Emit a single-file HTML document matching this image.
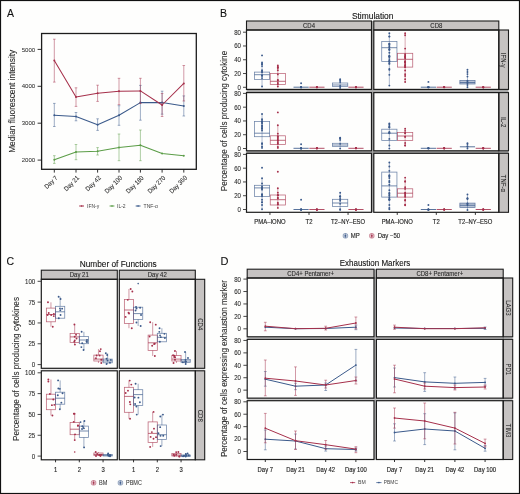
<!DOCTYPE html>
<html><head><meta charset="utf-8"><style>
html,body{margin:0;padding:0;background:#fff;}
body{width:520px;height:494px;overflow:hidden;}
svg{display:block;font-family:"Liberation Sans", sans-serif;will-change:transform;}
</style></head><body>
<svg width="520" height="494" viewBox="0 0 520 494">
<rect x="0" y="0" width="520" height="494" fill="#fefefd"/>
<rect x="0.50" y="0.50" width="519.00" height="493.00" fill="none" stroke="#111" stroke-width="1.2"/>
<text x="7.10" y="17.40" font-size="11.5" text-anchor="start" fill="#111" stroke="#111" stroke-width="0.1" textLength="7.0" lengthAdjust="spacingAndGlyphs">A</text>
<line x1="54.30" y1="155.70" x2="54.30" y2="163.40" stroke="#5b9d47" stroke-width="0.8" stroke-opacity="0.62" stroke-linecap="butt"/>
<line x1="53.00" y1="155.70" x2="55.60" y2="155.70" stroke="#5b9d47" stroke-width="0.8" stroke-opacity="0.62" stroke-linecap="butt"/>
<line x1="53.00" y1="163.40" x2="55.60" y2="163.40" stroke="#5b9d47" stroke-width="0.8" stroke-opacity="0.62" stroke-linecap="butt"/>
<line x1="76.00" y1="144.50" x2="76.00" y2="159.70" stroke="#5b9d47" stroke-width="0.8" stroke-opacity="0.62" stroke-linecap="butt"/>
<line x1="74.70" y1="144.50" x2="77.30" y2="144.50" stroke="#5b9d47" stroke-width="0.8" stroke-opacity="0.62" stroke-linecap="butt"/>
<line x1="74.70" y1="159.70" x2="77.30" y2="159.70" stroke="#5b9d47" stroke-width="0.8" stroke-opacity="0.62" stroke-linecap="butt"/>
<line x1="97.60" y1="147.60" x2="97.60" y2="155.00" stroke="#5b9d47" stroke-width="0.8" stroke-opacity="0.62" stroke-linecap="butt"/>
<line x1="96.30" y1="147.60" x2="98.90" y2="147.60" stroke="#5b9d47" stroke-width="0.8" stroke-opacity="0.62" stroke-linecap="butt"/>
<line x1="96.30" y1="155.00" x2="98.90" y2="155.00" stroke="#5b9d47" stroke-width="0.8" stroke-opacity="0.62" stroke-linecap="butt"/>
<line x1="119.00" y1="134.00" x2="119.00" y2="160.70" stroke="#5b9d47" stroke-width="0.8" stroke-opacity="0.62" stroke-linecap="butt"/>
<line x1="117.70" y1="134.00" x2="120.30" y2="134.00" stroke="#5b9d47" stroke-width="0.8" stroke-opacity="0.62" stroke-linecap="butt"/>
<line x1="117.70" y1="160.70" x2="120.30" y2="160.70" stroke="#5b9d47" stroke-width="0.8" stroke-opacity="0.62" stroke-linecap="butt"/>
<line x1="140.40" y1="130.00" x2="140.40" y2="160.70" stroke="#5b9d47" stroke-width="0.8" stroke-opacity="0.62" stroke-linecap="butt"/>
<line x1="139.10" y1="130.00" x2="141.70" y2="130.00" stroke="#5b9d47" stroke-width="0.8" stroke-opacity="0.62" stroke-linecap="butt"/>
<line x1="139.10" y1="160.70" x2="141.70" y2="160.70" stroke="#5b9d47" stroke-width="0.8" stroke-opacity="0.62" stroke-linecap="butt"/>
<polyline points="54.30,159.70 76.00,152.00 97.60,151.20 119.00,147.60 140.40,145.30 162.10,153.60 183.80,155.70" fill="none" stroke="#5b9d47" stroke-width="1.05" stroke-linejoin="round"/>
<circle cx="54.30" cy="159.70" r="1.0" fill="#5b9d47"/>
<circle cx="76.00" cy="152.00" r="1.0" fill="#5b9d47"/>
<circle cx="97.60" cy="151.20" r="1.0" fill="#5b9d47"/>
<circle cx="119.00" cy="147.60" r="1.0" fill="#5b9d47"/>
<circle cx="140.40" cy="145.30" r="1.0" fill="#5b9d47"/>
<circle cx="162.10" cy="153.60" r="1.0" fill="#5b9d47"/>
<circle cx="183.80" cy="155.70" r="1.0" fill="#5b9d47"/>
<line x1="54.30" y1="103.40" x2="54.30" y2="126.50" stroke="#3b5a8b" stroke-width="0.8" stroke-opacity="0.62" stroke-linecap="butt"/>
<line x1="53.00" y1="103.40" x2="55.60" y2="103.40" stroke="#3b5a8b" stroke-width="0.8" stroke-opacity="0.62" stroke-linecap="butt"/>
<line x1="53.00" y1="126.50" x2="55.60" y2="126.50" stroke="#3b5a8b" stroke-width="0.8" stroke-opacity="0.62" stroke-linecap="butt"/>
<line x1="76.00" y1="112.50" x2="76.00" y2="120.80" stroke="#3b5a8b" stroke-width="0.8" stroke-opacity="0.62" stroke-linecap="butt"/>
<line x1="74.70" y1="112.50" x2="77.30" y2="112.50" stroke="#3b5a8b" stroke-width="0.8" stroke-opacity="0.62" stroke-linecap="butt"/>
<line x1="74.70" y1="120.80" x2="77.30" y2="120.80" stroke="#3b5a8b" stroke-width="0.8" stroke-opacity="0.62" stroke-linecap="butt"/>
<line x1="97.60" y1="118.80" x2="97.60" y2="130.40" stroke="#3b5a8b" stroke-width="0.8" stroke-opacity="0.62" stroke-linecap="butt"/>
<line x1="96.30" y1="118.80" x2="98.90" y2="118.80" stroke="#3b5a8b" stroke-width="0.8" stroke-opacity="0.62" stroke-linecap="butt"/>
<line x1="96.30" y1="130.40" x2="98.90" y2="130.40" stroke="#3b5a8b" stroke-width="0.8" stroke-opacity="0.62" stroke-linecap="butt"/>
<line x1="119.00" y1="105.70" x2="119.00" y2="125.30" stroke="#3b5a8b" stroke-width="0.8" stroke-opacity="0.62" stroke-linecap="butt"/>
<line x1="117.70" y1="105.70" x2="120.30" y2="105.70" stroke="#3b5a8b" stroke-width="0.8" stroke-opacity="0.62" stroke-linecap="butt"/>
<line x1="117.70" y1="125.30" x2="120.30" y2="125.30" stroke="#3b5a8b" stroke-width="0.8" stroke-opacity="0.62" stroke-linecap="butt"/>
<line x1="140.40" y1="85.40" x2="140.40" y2="120.20" stroke="#3b5a8b" stroke-width="0.8" stroke-opacity="0.62" stroke-linecap="butt"/>
<line x1="139.10" y1="85.40" x2="141.70" y2="85.40" stroke="#3b5a8b" stroke-width="0.8" stroke-opacity="0.62" stroke-linecap="butt"/>
<line x1="139.10" y1="120.20" x2="141.70" y2="120.20" stroke="#3b5a8b" stroke-width="0.8" stroke-opacity="0.62" stroke-linecap="butt"/>
<line x1="162.10" y1="91.20" x2="162.10" y2="114.20" stroke="#3b5a8b" stroke-width="0.8" stroke-opacity="0.62" stroke-linecap="butt"/>
<line x1="160.80" y1="91.20" x2="163.40" y2="91.20" stroke="#3b5a8b" stroke-width="0.8" stroke-opacity="0.62" stroke-linecap="butt"/>
<line x1="160.80" y1="114.20" x2="163.40" y2="114.20" stroke="#3b5a8b" stroke-width="0.8" stroke-opacity="0.62" stroke-linecap="butt"/>
<line x1="183.80" y1="95.90" x2="183.80" y2="116.00" stroke="#3b5a8b" stroke-width="0.8" stroke-opacity="0.62" stroke-linecap="butt"/>
<line x1="182.50" y1="95.90" x2="185.10" y2="95.90" stroke="#3b5a8b" stroke-width="0.8" stroke-opacity="0.62" stroke-linecap="butt"/>
<line x1="182.50" y1="116.00" x2="185.10" y2="116.00" stroke="#3b5a8b" stroke-width="0.8" stroke-opacity="0.62" stroke-linecap="butt"/>
<polyline points="54.30,115.20 76.00,116.60 97.60,124.70 119.00,115.20 140.40,102.60 162.10,102.60 183.80,106.00" fill="none" stroke="#3b5a8b" stroke-width="1.05" stroke-linejoin="round"/>
<circle cx="54.30" cy="115.20" r="1.0" fill="#3b5a8b"/>
<circle cx="76.00" cy="116.60" r="1.0" fill="#3b5a8b"/>
<circle cx="97.60" cy="124.70" r="1.0" fill="#3b5a8b"/>
<circle cx="119.00" cy="115.20" r="1.0" fill="#3b5a8b"/>
<circle cx="140.40" cy="102.60" r="1.0" fill="#3b5a8b"/>
<circle cx="162.10" cy="102.60" r="1.0" fill="#3b5a8b"/>
<circle cx="183.80" cy="106.00" r="1.0" fill="#3b5a8b"/>
<line x1="54.30" y1="39.20" x2="54.30" y2="82.10" stroke="#a6304b" stroke-width="0.8" stroke-opacity="0.62" stroke-linecap="butt"/>
<line x1="53.00" y1="39.20" x2="55.60" y2="39.20" stroke="#a6304b" stroke-width="0.8" stroke-opacity="0.62" stroke-linecap="butt"/>
<line x1="53.00" y1="82.10" x2="55.60" y2="82.10" stroke="#a6304b" stroke-width="0.8" stroke-opacity="0.62" stroke-linecap="butt"/>
<line x1="76.00" y1="87.80" x2="76.00" y2="106.40" stroke="#a6304b" stroke-width="0.8" stroke-opacity="0.62" stroke-linecap="butt"/>
<line x1="74.70" y1="87.80" x2="77.30" y2="87.80" stroke="#a6304b" stroke-width="0.8" stroke-opacity="0.62" stroke-linecap="butt"/>
<line x1="74.70" y1="106.40" x2="77.30" y2="106.40" stroke="#a6304b" stroke-width="0.8" stroke-opacity="0.62" stroke-linecap="butt"/>
<line x1="97.60" y1="85.20" x2="97.60" y2="101.40" stroke="#a6304b" stroke-width="0.8" stroke-opacity="0.62" stroke-linecap="butt"/>
<line x1="96.30" y1="85.20" x2="98.90" y2="85.20" stroke="#a6304b" stroke-width="0.8" stroke-opacity="0.62" stroke-linecap="butt"/>
<line x1="96.30" y1="101.40" x2="98.90" y2="101.40" stroke="#a6304b" stroke-width="0.8" stroke-opacity="0.62" stroke-linecap="butt"/>
<line x1="119.00" y1="78.30" x2="119.00" y2="104.60" stroke="#a6304b" stroke-width="0.8" stroke-opacity="0.62" stroke-linecap="butt"/>
<line x1="117.70" y1="78.30" x2="120.30" y2="78.30" stroke="#a6304b" stroke-width="0.8" stroke-opacity="0.62" stroke-linecap="butt"/>
<line x1="117.70" y1="104.60" x2="120.30" y2="104.60" stroke="#a6304b" stroke-width="0.8" stroke-opacity="0.62" stroke-linecap="butt"/>
<line x1="140.40" y1="78.30" x2="140.40" y2="103.50" stroke="#a6304b" stroke-width="0.8" stroke-opacity="0.62" stroke-linecap="butt"/>
<line x1="139.10" y1="78.30" x2="141.70" y2="78.30" stroke="#a6304b" stroke-width="0.8" stroke-opacity="0.62" stroke-linecap="butt"/>
<line x1="139.10" y1="103.50" x2="141.70" y2="103.50" stroke="#a6304b" stroke-width="0.8" stroke-opacity="0.62" stroke-linecap="butt"/>
<line x1="162.10" y1="93.50" x2="162.10" y2="116.50" stroke="#a6304b" stroke-width="0.8" stroke-opacity="0.62" stroke-linecap="butt"/>
<line x1="160.80" y1="93.50" x2="163.40" y2="93.50" stroke="#a6304b" stroke-width="0.8" stroke-opacity="0.62" stroke-linecap="butt"/>
<line x1="160.80" y1="116.50" x2="163.40" y2="116.50" stroke="#a6304b" stroke-width="0.8" stroke-opacity="0.62" stroke-linecap="butt"/>
<line x1="183.80" y1="65.50" x2="183.80" y2="101.00" stroke="#a6304b" stroke-width="0.8" stroke-opacity="0.62" stroke-linecap="butt"/>
<line x1="182.50" y1="65.50" x2="185.10" y2="65.50" stroke="#a6304b" stroke-width="0.8" stroke-opacity="0.62" stroke-linecap="butt"/>
<line x1="182.50" y1="101.00" x2="185.10" y2="101.00" stroke="#a6304b" stroke-width="0.8" stroke-opacity="0.62" stroke-linecap="butt"/>
<polyline points="54.30,60.50 76.00,96.90 97.60,93.30 119.00,91.30 140.40,90.90 162.10,105.00 183.80,83.40" fill="none" stroke="#a6304b" stroke-width="1.05" stroke-linejoin="round"/>
<circle cx="54.30" cy="60.50" r="1.0" fill="#a6304b"/>
<circle cx="76.00" cy="96.90" r="1.0" fill="#a6304b"/>
<circle cx="97.60" cy="93.30" r="1.0" fill="#a6304b"/>
<circle cx="119.00" cy="91.30" r="1.0" fill="#a6304b"/>
<circle cx="140.40" cy="90.90" r="1.0" fill="#a6304b"/>
<circle cx="162.10" cy="105.00" r="1.0" fill="#a6304b"/>
<circle cx="183.80" cy="83.40" r="1.0" fill="#a6304b"/>
<rect x="41.60" y="33.50" width="154.70" height="135.80" fill="none" stroke="#1c1c1c" stroke-width="1.3"/>
<line x1="37.60" y1="49.40" x2="41.60" y2="49.40" stroke="#1c1c1c" stroke-width="0.9" stroke-linecap="butt"/>
<text x="35.20" y="51.50" font-size="6.1" text-anchor="end" fill="#333" stroke="#333" stroke-width="0.05">5000</text>
<line x1="37.60" y1="86.30" x2="41.60" y2="86.30" stroke="#1c1c1c" stroke-width="0.9" stroke-linecap="butt"/>
<text x="35.20" y="88.40" font-size="6.1" text-anchor="end" fill="#333" stroke="#333" stroke-width="0.05">4000</text>
<line x1="37.60" y1="123.20" x2="41.60" y2="123.20" stroke="#1c1c1c" stroke-width="0.9" stroke-linecap="butt"/>
<text x="35.20" y="125.30" font-size="6.1" text-anchor="end" fill="#333" stroke="#333" stroke-width="0.05">3000</text>
<line x1="37.60" y1="160.10" x2="41.60" y2="160.10" stroke="#1c1c1c" stroke-width="0.9" stroke-linecap="butt"/>
<text x="35.20" y="162.20" font-size="6.1" text-anchor="end" fill="#333" stroke="#333" stroke-width="0.05">2000</text>
<line x1="54.30" y1="169.30" x2="54.30" y2="172.60" stroke="#1c1c1c" stroke-width="0.9" stroke-linecap="butt"/>
<text x="58.00" y="178.30" font-size="6.49" text-anchor="end" fill="#2a2a2a" stroke="#2a2a2a" stroke-width="0.07" transform="rotate(-45 58.00 178.30)" textLength="15.41" lengthAdjust="spacingAndGlyphs">Day 7</text>
<line x1="76.00" y1="169.30" x2="76.00" y2="172.60" stroke="#1c1c1c" stroke-width="0.9" stroke-linecap="butt"/>
<text x="79.70" y="178.30" font-size="6.49" text-anchor="end" fill="#2a2a2a" stroke="#2a2a2a" stroke-width="0.07" transform="rotate(-45 79.70 178.30)" textLength="18.69" lengthAdjust="spacingAndGlyphs">Day 21</text>
<line x1="97.60" y1="169.30" x2="97.60" y2="172.60" stroke="#1c1c1c" stroke-width="0.9" stroke-linecap="butt"/>
<text x="101.30" y="178.30" font-size="6.49" text-anchor="end" fill="#2a2a2a" stroke="#2a2a2a" stroke-width="0.07" transform="rotate(-45 101.30 178.30)" textLength="18.69" lengthAdjust="spacingAndGlyphs">Day 42</text>
<line x1="119.00" y1="169.30" x2="119.00" y2="172.60" stroke="#1c1c1c" stroke-width="0.9" stroke-linecap="butt"/>
<text x="122.70" y="178.30" font-size="6.49" text-anchor="end" fill="#2a2a2a" stroke="#2a2a2a" stroke-width="0.07" transform="rotate(-45 122.70 178.30)" textLength="21.98" lengthAdjust="spacingAndGlyphs">Day 100</text>
<line x1="140.40" y1="169.30" x2="140.40" y2="172.60" stroke="#1c1c1c" stroke-width="0.9" stroke-linecap="butt"/>
<text x="144.10" y="178.30" font-size="6.49" text-anchor="end" fill="#2a2a2a" stroke="#2a2a2a" stroke-width="0.07" transform="rotate(-45 144.10 178.30)" textLength="21.98" lengthAdjust="spacingAndGlyphs">Day 180</text>
<line x1="162.10" y1="169.30" x2="162.10" y2="172.60" stroke="#1c1c1c" stroke-width="0.9" stroke-linecap="butt"/>
<text x="165.80" y="178.30" font-size="6.49" text-anchor="end" fill="#2a2a2a" stroke="#2a2a2a" stroke-width="0.07" transform="rotate(-45 165.80 178.30)" textLength="21.98" lengthAdjust="spacingAndGlyphs">Day 270</text>
<line x1="183.80" y1="169.30" x2="183.80" y2="172.60" stroke="#1c1c1c" stroke-width="0.9" stroke-linecap="butt"/>
<text x="187.50" y="178.30" font-size="6.49" text-anchor="end" fill="#2a2a2a" stroke="#2a2a2a" stroke-width="0.07" transform="rotate(-45 187.50 178.30)" textLength="21.98" lengthAdjust="spacingAndGlyphs">Day 360</text>
<text x="15.20" y="101.30" font-size="8.8" text-anchor="middle" fill="#2a2a2a" stroke="#2a2a2a" stroke-width="0.1" transform="rotate(-90 15.20 101.30)" textLength="103" lengthAdjust="spacingAndGlyphs">Median fluorescent intensity</text>
<line x1="79.20" y1="206.00" x2="84.00" y2="206.00" stroke="#a6304b" stroke-width="1.0" stroke-linecap="butt"/>
<circle cx="81.60" cy="206.00" r="0.8" fill="#a6304b"/>
<text x="87.00" y="207.90" font-size="5.0" text-anchor="start" fill="#444">IFN-γ</text>
<line x1="109.60" y1="206.00" x2="114.40" y2="206.00" stroke="#5b9d47" stroke-width="1.0" stroke-linecap="butt"/>
<circle cx="112.00" cy="206.00" r="0.8" fill="#5b9d47"/>
<text x="117.00" y="207.90" font-size="5.0" text-anchor="start" fill="#444">IL-2</text>
<line x1="135.70" y1="206.00" x2="140.50" y2="206.00" stroke="#3b5a8b" stroke-width="1.0" stroke-linecap="butt"/>
<circle cx="138.10" cy="206.00" r="0.8" fill="#3b5a8b"/>
<text x="143.60" y="207.90" font-size="5.0" text-anchor="start" fill="#444">TNF-α</text>
<text x="220.00" y="17.20" font-size="10.5" text-anchor="start" fill="#111" stroke="#111" stroke-width="0.1">B</text>
<text x="372.70" y="19.00" font-size="8.4" text-anchor="middle" fill="#111" stroke="#111" stroke-width="0.1" textLength="41.5" lengthAdjust="spacingAndGlyphs">Stimulation</text>
<rect x="246.50" y="89.40" width="262.00" height="3.20" fill="#a9a9a9"/>
<rect x="246.50" y="150.80" width="262.00" height="2.50" fill="#a9a9a9"/>
<rect x="371.50" y="21.00" width="2.30" height="191.30" fill="#a9a9a9"/>
<rect x="246.50" y="21.00" width="125.00" height="9.00" fill="#c6c3c2" stroke="#1c1c1c" stroke-width="1.1"/>
<text x="309.00" y="27.90" font-size="6.72" text-anchor="middle" fill="#2a2a2a" stroke="#2a2a2a" stroke-width="0.1" textLength="12.0" lengthAdjust="spacingAndGlyphs">CD4</text>
<rect x="373.80" y="21.00" width="125.00" height="9.00" fill="#c6c3c2" stroke="#1c1c1c" stroke-width="1.1"/>
<text x="436.30" y="27.90" font-size="6.72" text-anchor="middle" fill="#2a2a2a" stroke="#2a2a2a" stroke-width="0.1" textLength="12.0" lengthAdjust="spacingAndGlyphs">CD8</text>
<rect x="498.80" y="30.00" width="9.70" height="59.40" fill="#c6c3c2" stroke="#1c1c1c" stroke-width="1.1"/>
<text x="501.25" y="60.20" font-size="6.72" text-anchor="middle" fill="#2a2a2a" stroke="#2a2a2a" stroke-width="0.08" transform="rotate(90 501.25 60.20)" textLength="14.66" lengthAdjust="spacingAndGlyphs">IFN-γ</text>
<rect x="498.80" y="92.60" width="9.70" height="58.20" fill="#c6c3c2" stroke="#1c1c1c" stroke-width="1.1"/>
<text x="501.25" y="122.20" font-size="6.72" text-anchor="middle" fill="#2a2a2a" stroke="#2a2a2a" stroke-width="0.08" transform="rotate(90 501.25 122.20)" textLength="10.34" lengthAdjust="spacingAndGlyphs">IL-2</text>
<rect x="498.80" y="153.30" width="9.70" height="59.00" fill="#c6c3c2" stroke="#1c1c1c" stroke-width="1.1"/>
<text x="501.25" y="183.30" font-size="6.72" text-anchor="middle" fill="#2a2a2a" stroke="#2a2a2a" stroke-width="0.08" transform="rotate(90 501.25 183.30)" textLength="17.13" lengthAdjust="spacingAndGlyphs">TNF-α</text>
<line x1="262.04" y1="62.50" x2="262.04" y2="86.50" stroke="#3b5a8b" stroke-width="0.7" stroke-opacity="0.6" stroke-linecap="butt"/>
<rect x="254.44" y="72.10" width="15.20" height="7.50" fill="none" stroke="#3b5a8b" stroke-width="0.75" stroke-opacity="0.75"/>
<line x1="254.44" y1="74.70" x2="269.64" y2="74.70" stroke="#3b5a8b" stroke-width="0.8250000000000001" stroke-opacity="0.85" stroke-linecap="butt"/>
<circle cx="262.04" cy="62.50" r="0.95" fill="#3b5a8b"/>
<circle cx="262.04" cy="86.50" r="0.95" fill="#3b5a8b"/>
<circle cx="262.04" cy="70.27" r="0.95" fill="#3b5a8b"/>
<circle cx="262.04" cy="66.12" r="0.95" fill="#3b5a8b"/>
<circle cx="262.04" cy="78.12" r="0.95" fill="#3b5a8b"/>
<circle cx="262.04" cy="64.24" r="0.95" fill="#3b5a8b"/>
<circle cx="262.04" cy="75.36" r="0.95" fill="#3b5a8b"/>
<circle cx="262.04" cy="71.28" r="0.95" fill="#3b5a8b"/>
<circle cx="262.04" cy="63.89" r="0.95" fill="#3b5a8b"/>
<circle cx="262.04" cy="75.91" r="0.95" fill="#3b5a8b"/>
<circle cx="262.04" cy="72.38" r="0.95" fill="#3b5a8b"/>
<circle cx="262.04" cy="75.35" r="0.95" fill="#3b5a8b"/>
<circle cx="262.04" cy="55.40" r="0.95" fill="#3b5a8b"/>
<line x1="277.84" y1="65.50" x2="277.84" y2="86.50" stroke="#a6304b" stroke-width="0.7" stroke-opacity="0.6" stroke-linecap="butt"/>
<rect x="270.24" y="73.40" width="15.20" height="11.20" fill="none" stroke="#a6304b" stroke-width="0.75" stroke-opacity="0.75"/>
<line x1="270.24" y1="81.30" x2="285.44" y2="81.30" stroke="#a6304b" stroke-width="0.8250000000000001" stroke-opacity="0.85" stroke-linecap="butt"/>
<circle cx="277.84" cy="65.50" r="0.95" fill="#a6304b"/>
<circle cx="277.84" cy="86.50" r="0.95" fill="#a6304b"/>
<circle cx="277.84" cy="66.97" r="0.95" fill="#a6304b"/>
<circle cx="277.84" cy="67.40" r="0.95" fill="#a6304b"/>
<circle cx="277.84" cy="74.41" r="0.95" fill="#a6304b"/>
<circle cx="277.84" cy="82.86" r="0.95" fill="#a6304b"/>
<circle cx="277.84" cy="68.10" r="0.95" fill="#a6304b"/>
<circle cx="277.84" cy="70.19" r="0.95" fill="#a6304b"/>
<circle cx="277.84" cy="80.43" r="0.95" fill="#a6304b"/>
<circle cx="277.84" cy="84.01" r="0.95" fill="#a6304b"/>
<circle cx="277.84" cy="79.86" r="0.95" fill="#a6304b"/>
<line x1="301.10" y1="87.00" x2="301.10" y2="87.40" stroke="#3b5a8b" stroke-width="0.7" stroke-opacity="0.6" stroke-linecap="butt"/>
<line x1="293.50" y1="87.20" x2="308.70" y2="87.20" stroke="#3b5a8b" stroke-width="1.0" stroke-opacity="0.85" stroke-linecap="butt"/>
<circle cx="301.10" cy="87.00" r="0.95" fill="#3b5a8b"/>
<circle cx="301.10" cy="87.40" r="0.95" fill="#3b5a8b"/>
<circle cx="301.10" cy="87.16" r="0.95" fill="#3b5a8b"/>
<circle cx="301.10" cy="87.39" r="0.95" fill="#3b5a8b"/>
<circle cx="301.10" cy="86.92" r="0.95" fill="#3b5a8b"/>
<circle cx="301.10" cy="83.30" r="0.95" fill="#3b5a8b"/>
<line x1="316.90" y1="87.00" x2="316.90" y2="87.40" stroke="#a6304b" stroke-width="0.7" stroke-opacity="0.6" stroke-linecap="butt"/>
<line x1="309.30" y1="87.20" x2="324.50" y2="87.20" stroke="#a6304b" stroke-width="1.0" stroke-opacity="0.85" stroke-linecap="butt"/>
<circle cx="316.90" cy="87.00" r="0.95" fill="#a6304b"/>
<circle cx="316.90" cy="87.40" r="0.95" fill="#a6304b"/>
<circle cx="316.90" cy="87.34" r="0.95" fill="#a6304b"/>
<circle cx="316.90" cy="87.12" r="0.95" fill="#a6304b"/>
<circle cx="316.90" cy="86.97" r="0.95" fill="#a6304b"/>
<line x1="340.16" y1="79.30" x2="340.16" y2="87.90" stroke="#3b5a8b" stroke-width="0.7" stroke-opacity="0.6" stroke-linecap="butt"/>
<rect x="332.56" y="83.00" width="15.20" height="3.60" fill="none" stroke="#3b5a8b" stroke-width="0.75" stroke-opacity="0.75"/>
<line x1="332.56" y1="85.00" x2="347.76" y2="85.00" stroke="#3b5a8b" stroke-width="0.8250000000000001" stroke-opacity="0.85" stroke-linecap="butt"/>
<circle cx="340.16" cy="79.30" r="0.95" fill="#3b5a8b"/>
<circle cx="340.16" cy="87.90" r="0.95" fill="#3b5a8b"/>
<circle cx="340.16" cy="80.31" r="0.95" fill="#3b5a8b"/>
<circle cx="340.16" cy="81.95" r="0.95" fill="#3b5a8b"/>
<circle cx="340.16" cy="85.94" r="0.95" fill="#3b5a8b"/>
<line x1="355.96" y1="87.00" x2="355.96" y2="87.40" stroke="#a6304b" stroke-width="0.7" stroke-opacity="0.6" stroke-linecap="butt"/>
<line x1="348.36" y1="87.20" x2="363.56" y2="87.20" stroke="#a6304b" stroke-width="1.0" stroke-opacity="0.85" stroke-linecap="butt"/>
<circle cx="355.96" cy="87.00" r="0.95" fill="#a6304b"/>
<circle cx="355.96" cy="87.40" r="0.95" fill="#a6304b"/>
<circle cx="355.96" cy="87.07" r="0.95" fill="#a6304b"/>
<circle cx="355.96" cy="87.23" r="0.95" fill="#a6304b"/>
<circle cx="355.96" cy="87.22" r="0.95" fill="#a6304b"/>
<rect x="246.50" y="30.00" width="125.00" height="59.40" fill="none" stroke="#1c1c1c" stroke-width="1.2"/>
<line x1="389.34" y1="33.30" x2="389.34" y2="85.60" stroke="#3b5a8b" stroke-width="0.7" stroke-opacity="0.6" stroke-linecap="butt"/>
<rect x="381.74" y="41.40" width="15.20" height="20.20" fill="none" stroke="#3b5a8b" stroke-width="0.75" stroke-opacity="0.75"/>
<line x1="381.74" y1="47.70" x2="396.94" y2="47.70" stroke="#3b5a8b" stroke-width="0.8250000000000001" stroke-opacity="0.85" stroke-linecap="butt"/>
<circle cx="389.34" cy="33.30" r="0.95" fill="#3b5a8b"/>
<circle cx="389.34" cy="85.60" r="0.95" fill="#3b5a8b"/>
<circle cx="389.34" cy="52.78" r="0.95" fill="#3b5a8b"/>
<circle cx="389.34" cy="61.95" r="0.95" fill="#3b5a8b"/>
<circle cx="389.34" cy="36.58" r="0.95" fill="#3b5a8b"/>
<circle cx="389.34" cy="36.42" r="0.95" fill="#3b5a8b"/>
<circle cx="389.34" cy="44.07" r="0.95" fill="#3b5a8b"/>
<circle cx="389.34" cy="68.88" r="0.95" fill="#3b5a8b"/>
<circle cx="389.34" cy="55.66" r="0.95" fill="#3b5a8b"/>
<circle cx="389.34" cy="49.73" r="0.95" fill="#3b5a8b"/>
<circle cx="389.34" cy="63.92" r="0.95" fill="#3b5a8b"/>
<circle cx="389.34" cy="57.00" r="0.95" fill="#3b5a8b"/>
<circle cx="389.34" cy="48.98" r="0.95" fill="#3b5a8b"/>
<circle cx="389.34" cy="74.85" r="0.95" fill="#3b5a8b"/>
<circle cx="389.34" cy="69.86" r="0.95" fill="#3b5a8b"/>
<circle cx="389.34" cy="46.07" r="0.95" fill="#3b5a8b"/>
<circle cx="389.34" cy="63.34" r="0.95" fill="#3b5a8b"/>
<circle cx="389.34" cy="60.77" r="0.95" fill="#3b5a8b"/>
<circle cx="389.34" cy="59.08" r="0.95" fill="#3b5a8b"/>
<circle cx="389.34" cy="56.13" r="0.95" fill="#3b5a8b"/>
<circle cx="389.34" cy="47.22" r="0.95" fill="#3b5a8b"/>
<circle cx="389.34" cy="61.20" r="0.95" fill="#3b5a8b"/>
<circle cx="389.34" cy="43.78" r="0.95" fill="#3b5a8b"/>
<circle cx="389.34" cy="49.85" r="0.95" fill="#3b5a8b"/>
<circle cx="389.34" cy="56.69" r="0.95" fill="#3b5a8b"/>
<circle cx="389.34" cy="44.47" r="0.95" fill="#3b5a8b"/>
<line x1="405.14" y1="33.30" x2="405.14" y2="82.00" stroke="#a6304b" stroke-width="0.7" stroke-opacity="0.6" stroke-linecap="butt"/>
<rect x="397.54" y="53.30" width="15.20" height="13.80" fill="none" stroke="#a6304b" stroke-width="0.75" stroke-opacity="0.75"/>
<line x1="397.54" y1="59.30" x2="412.74" y2="59.30" stroke="#a6304b" stroke-width="0.8250000000000001" stroke-opacity="0.85" stroke-linecap="butt"/>
<circle cx="405.14" cy="33.30" r="0.95" fill="#a6304b"/>
<circle cx="405.14" cy="82.00" r="0.95" fill="#a6304b"/>
<circle cx="405.14" cy="57.11" r="0.95" fill="#a6304b"/>
<circle cx="405.14" cy="35.21" r="0.95" fill="#a6304b"/>
<circle cx="405.14" cy="65.84" r="0.95" fill="#a6304b"/>
<circle cx="405.14" cy="70.53" r="0.95" fill="#a6304b"/>
<circle cx="405.14" cy="61.21" r="0.95" fill="#a6304b"/>
<circle cx="405.14" cy="75.94" r="0.95" fill="#a6304b"/>
<circle cx="405.14" cy="48.58" r="0.95" fill="#a6304b"/>
<circle cx="405.14" cy="67.16" r="0.95" fill="#a6304b"/>
<circle cx="405.14" cy="62.25" r="0.95" fill="#a6304b"/>
<circle cx="405.14" cy="61.54" r="0.95" fill="#a6304b"/>
<circle cx="405.14" cy="55.52" r="0.95" fill="#a6304b"/>
<circle cx="405.14" cy="74.21" r="0.95" fill="#a6304b"/>
<circle cx="405.14" cy="79.31" r="0.95" fill="#a6304b"/>
<circle cx="405.14" cy="56.39" r="0.95" fill="#a6304b"/>
<circle cx="405.14" cy="65.64" r="0.95" fill="#a6304b"/>
<circle cx="405.14" cy="54.14" r="0.95" fill="#a6304b"/>
<circle cx="405.14" cy="62.98" r="0.95" fill="#a6304b"/>
<circle cx="405.14" cy="62.23" r="0.95" fill="#a6304b"/>
<circle cx="405.14" cy="67.00" r="0.95" fill="#a6304b"/>
<circle cx="405.14" cy="64.64" r="0.95" fill="#a6304b"/>
<circle cx="405.14" cy="57.23" r="0.95" fill="#a6304b"/>
<circle cx="405.14" cy="58.62" r="0.95" fill="#a6304b"/>
<line x1="428.40" y1="87.00" x2="428.40" y2="87.40" stroke="#3b5a8b" stroke-width="0.7" stroke-opacity="0.6" stroke-linecap="butt"/>
<line x1="420.80" y1="87.20" x2="436.00" y2="87.20" stroke="#3b5a8b" stroke-width="1.0" stroke-opacity="0.85" stroke-linecap="butt"/>
<circle cx="428.40" cy="87.00" r="0.95" fill="#3b5a8b"/>
<circle cx="428.40" cy="87.40" r="0.95" fill="#3b5a8b"/>
<circle cx="428.40" cy="87.27" r="0.95" fill="#3b5a8b"/>
<circle cx="428.40" cy="87.01" r="0.95" fill="#3b5a8b"/>
<circle cx="428.40" cy="87.13" r="0.95" fill="#3b5a8b"/>
<circle cx="428.40" cy="81.90" r="0.95" fill="#3b5a8b"/>
<line x1="444.20" y1="87.00" x2="444.20" y2="87.40" stroke="#a6304b" stroke-width="0.7" stroke-opacity="0.6" stroke-linecap="butt"/>
<line x1="436.60" y1="87.20" x2="451.80" y2="87.20" stroke="#a6304b" stroke-width="1.0" stroke-opacity="0.85" stroke-linecap="butt"/>
<circle cx="444.20" cy="87.00" r="0.95" fill="#a6304b"/>
<circle cx="444.20" cy="87.40" r="0.95" fill="#a6304b"/>
<circle cx="444.20" cy="87.07" r="0.95" fill="#a6304b"/>
<circle cx="444.20" cy="87.05" r="0.95" fill="#a6304b"/>
<circle cx="444.20" cy="86.93" r="0.95" fill="#a6304b"/>
<line x1="467.46" y1="69.80" x2="467.46" y2="87.20" stroke="#3b5a8b" stroke-width="0.7" stroke-opacity="0.6" stroke-linecap="butt"/>
<rect x="459.86" y="80.40" width="15.20" height="3.60" fill="#3b5a8b" stroke="#3b5a8b" stroke-width="0.75" stroke-opacity="0.75" fill-opacity="0.35"/>
<line x1="459.86" y1="82.50" x2="475.06" y2="82.50" stroke="#3b5a8b" stroke-width="0.8250000000000001" stroke-opacity="0.85" stroke-linecap="butt"/>
<circle cx="467.46" cy="69.80" r="0.95" fill="#3b5a8b"/>
<circle cx="467.46" cy="87.20" r="0.95" fill="#3b5a8b"/>
<circle cx="467.46" cy="83.17" r="0.95" fill="#3b5a8b"/>
<circle cx="467.46" cy="72.05" r="0.95" fill="#3b5a8b"/>
<circle cx="467.46" cy="74.11" r="0.95" fill="#3b5a8b"/>
<circle cx="467.46" cy="76.60" r="0.95" fill="#3b5a8b"/>
<circle cx="467.46" cy="84.96" r="0.95" fill="#3b5a8b"/>
<circle cx="467.46" cy="80.69" r="0.95" fill="#3b5a8b"/>
<circle cx="467.46" cy="82.02" r="0.95" fill="#3b5a8b"/>
<line x1="483.26" y1="87.00" x2="483.26" y2="87.40" stroke="#a6304b" stroke-width="0.7" stroke-opacity="0.6" stroke-linecap="butt"/>
<line x1="475.66" y1="87.20" x2="490.86" y2="87.20" stroke="#a6304b" stroke-width="1.0" stroke-opacity="0.85" stroke-linecap="butt"/>
<circle cx="483.26" cy="87.00" r="0.95" fill="#a6304b"/>
<circle cx="483.26" cy="87.40" r="0.95" fill="#a6304b"/>
<circle cx="483.26" cy="87.22" r="0.95" fill="#a6304b"/>
<circle cx="483.26" cy="87.35" r="0.95" fill="#a6304b"/>
<circle cx="483.26" cy="87.31" r="0.95" fill="#a6304b"/>
<rect x="373.80" y="30.00" width="125.00" height="59.40" fill="none" stroke="#1c1c1c" stroke-width="1.2"/>
<line x1="243.00" y1="87.30" x2="246.50" y2="87.30" stroke="#333" stroke-width="0.9" stroke-linecap="butt"/>
<text x="241.00" y="89.70" font-size="6.83" text-anchor="end" fill="#2a2a2a" stroke="#2a2a2a" stroke-width="0.08" textLength="3.39" lengthAdjust="spacingAndGlyphs">0</text>
<line x1="243.00" y1="73.53" x2="246.50" y2="73.53" stroke="#333" stroke-width="0.9" stroke-linecap="butt"/>
<text x="241.00" y="75.93" font-size="6.83" text-anchor="end" fill="#2a2a2a" stroke="#2a2a2a" stroke-width="0.08" textLength="6.79" lengthAdjust="spacingAndGlyphs">20</text>
<line x1="243.00" y1="59.75" x2="246.50" y2="59.75" stroke="#333" stroke-width="0.9" stroke-linecap="butt"/>
<text x="241.00" y="62.15" font-size="6.83" text-anchor="end" fill="#2a2a2a" stroke="#2a2a2a" stroke-width="0.08" textLength="6.79" lengthAdjust="spacingAndGlyphs">40</text>
<line x1="243.00" y1="45.98" x2="246.50" y2="45.98" stroke="#333" stroke-width="0.9" stroke-linecap="butt"/>
<text x="241.00" y="48.38" font-size="6.83" text-anchor="end" fill="#2a2a2a" stroke="#2a2a2a" stroke-width="0.08" textLength="6.79" lengthAdjust="spacingAndGlyphs">60</text>
<line x1="243.00" y1="32.20" x2="246.50" y2="32.20" stroke="#333" stroke-width="0.9" stroke-linecap="butt"/>
<text x="241.00" y="34.60" font-size="6.83" text-anchor="end" fill="#2a2a2a" stroke="#2a2a2a" stroke-width="0.08" textLength="6.79" lengthAdjust="spacingAndGlyphs">80</text>
<line x1="262.04" y1="114.00" x2="262.04" y2="147.90" stroke="#3b5a8b" stroke-width="0.7" stroke-opacity="0.6" stroke-linecap="butt"/>
<rect x="254.44" y="121.60" width="15.20" height="15.10" fill="none" stroke="#3b5a8b" stroke-width="0.75" stroke-opacity="0.75"/>
<line x1="254.44" y1="133.20" x2="269.64" y2="133.20" stroke="#3b5a8b" stroke-width="0.8250000000000001" stroke-opacity="0.85" stroke-linecap="butt"/>
<circle cx="262.04" cy="114.00" r="0.95" fill="#3b5a8b"/>
<circle cx="262.04" cy="147.90" r="0.95" fill="#3b5a8b"/>
<circle cx="262.04" cy="143.29" r="0.95" fill="#3b5a8b"/>
<circle cx="262.04" cy="123.44" r="0.95" fill="#3b5a8b"/>
<circle cx="262.04" cy="128.08" r="0.95" fill="#3b5a8b"/>
<circle cx="262.04" cy="126.16" r="0.95" fill="#3b5a8b"/>
<circle cx="262.04" cy="143.97" r="0.95" fill="#3b5a8b"/>
<circle cx="262.04" cy="146.47" r="0.95" fill="#3b5a8b"/>
<circle cx="262.04" cy="119.12" r="0.95" fill="#3b5a8b"/>
<circle cx="262.04" cy="119.97" r="0.95" fill="#3b5a8b"/>
<circle cx="262.04" cy="121.86" r="0.95" fill="#3b5a8b"/>
<circle cx="262.04" cy="121.91" r="0.95" fill="#3b5a8b"/>
<circle cx="262.04" cy="128.92" r="0.95" fill="#3b5a8b"/>
<circle cx="262.04" cy="130.50" r="0.95" fill="#3b5a8b"/>
<circle cx="262.04" cy="125.57" r="0.95" fill="#3b5a8b"/>
<circle cx="262.04" cy="121.66" r="0.95" fill="#3b5a8b"/>
<circle cx="262.04" cy="127.93" r="0.95" fill="#3b5a8b"/>
<line x1="277.84" y1="125.30" x2="277.84" y2="147.90" stroke="#a6304b" stroke-width="0.7" stroke-opacity="0.6" stroke-linecap="butt"/>
<rect x="270.24" y="135.80" width="15.20" height="8.80" fill="none" stroke="#a6304b" stroke-width="0.75" stroke-opacity="0.75"/>
<line x1="270.24" y1="140.30" x2="285.44" y2="140.30" stroke="#a6304b" stroke-width="0.8250000000000001" stroke-opacity="0.85" stroke-linecap="butt"/>
<circle cx="277.84" cy="125.30" r="0.95" fill="#a6304b"/>
<circle cx="277.84" cy="147.90" r="0.95" fill="#a6304b"/>
<circle cx="277.84" cy="133.65" r="0.95" fill="#a6304b"/>
<circle cx="277.84" cy="138.10" r="0.95" fill="#a6304b"/>
<circle cx="277.84" cy="146.84" r="0.95" fill="#a6304b"/>
<circle cx="277.84" cy="140.91" r="0.95" fill="#a6304b"/>
<circle cx="277.84" cy="136.95" r="0.95" fill="#a6304b"/>
<circle cx="277.84" cy="139.26" r="0.95" fill="#a6304b"/>
<circle cx="277.84" cy="140.58" r="0.95" fill="#a6304b"/>
<circle cx="277.84" cy="136.28" r="0.95" fill="#a6304b"/>
<circle cx="277.84" cy="143.72" r="0.95" fill="#a6304b"/>
<circle cx="277.84" cy="142.66" r="0.95" fill="#a6304b"/>
<circle cx="277.84" cy="112.40" r="0.95" fill="#a6304b"/>
<line x1="301.10" y1="148.00" x2="301.10" y2="148.50" stroke="#3b5a8b" stroke-width="0.7" stroke-opacity="0.6" stroke-linecap="butt"/>
<line x1="293.50" y1="148.30" x2="308.70" y2="148.30" stroke="#3b5a8b" stroke-width="1.0" stroke-opacity="0.85" stroke-linecap="butt"/>
<circle cx="301.10" cy="148.00" r="0.95" fill="#3b5a8b"/>
<circle cx="301.10" cy="148.50" r="0.95" fill="#3b5a8b"/>
<circle cx="301.10" cy="148.44" r="0.95" fill="#3b5a8b"/>
<circle cx="301.10" cy="148.40" r="0.95" fill="#3b5a8b"/>
<circle cx="301.10" cy="148.20" r="0.95" fill="#3b5a8b"/>
<circle cx="301.10" cy="144.20" r="0.95" fill="#3b5a8b"/>
<line x1="316.90" y1="148.00" x2="316.90" y2="148.50" stroke="#a6304b" stroke-width="0.7" stroke-opacity="0.6" stroke-linecap="butt"/>
<line x1="309.30" y1="148.30" x2="324.50" y2="148.30" stroke="#a6304b" stroke-width="1.0" stroke-opacity="0.85" stroke-linecap="butt"/>
<circle cx="316.90" cy="148.00" r="0.95" fill="#a6304b"/>
<circle cx="316.90" cy="148.50" r="0.95" fill="#a6304b"/>
<circle cx="316.90" cy="148.20" r="0.95" fill="#a6304b"/>
<circle cx="316.90" cy="148.05" r="0.95" fill="#a6304b"/>
<circle cx="316.90" cy="148.32" r="0.95" fill="#a6304b"/>
<line x1="340.16" y1="137.60" x2="340.16" y2="148.60" stroke="#3b5a8b" stroke-width="0.7" stroke-opacity="0.6" stroke-linecap="butt"/>
<rect x="332.56" y="143.30" width="15.20" height="3.30" fill="none" stroke="#3b5a8b" stroke-width="0.75" stroke-opacity="0.75"/>
<line x1="332.56" y1="145.00" x2="347.76" y2="145.00" stroke="#3b5a8b" stroke-width="0.8250000000000001" stroke-opacity="0.85" stroke-linecap="butt"/>
<circle cx="340.16" cy="137.60" r="0.95" fill="#3b5a8b"/>
<circle cx="340.16" cy="148.60" r="0.95" fill="#3b5a8b"/>
<circle cx="340.16" cy="138.28" r="0.95" fill="#3b5a8b"/>
<circle cx="340.16" cy="138.34" r="0.95" fill="#3b5a8b"/>
<circle cx="340.16" cy="139.90" r="0.95" fill="#3b5a8b"/>
<circle cx="340.16" cy="143.84" r="0.95" fill="#3b5a8b"/>
<line x1="355.96" y1="148.00" x2="355.96" y2="148.50" stroke="#a6304b" stroke-width="0.7" stroke-opacity="0.6" stroke-linecap="butt"/>
<line x1="348.36" y1="148.30" x2="363.56" y2="148.30" stroke="#a6304b" stroke-width="1.0" stroke-opacity="0.85" stroke-linecap="butt"/>
<circle cx="355.96" cy="148.00" r="0.95" fill="#a6304b"/>
<circle cx="355.96" cy="148.50" r="0.95" fill="#a6304b"/>
<circle cx="355.96" cy="148.17" r="0.95" fill="#a6304b"/>
<circle cx="355.96" cy="148.03" r="0.95" fill="#a6304b"/>
<circle cx="355.96" cy="148.00" r="0.95" fill="#a6304b"/>
<rect x="246.50" y="92.60" width="125.00" height="58.20" fill="none" stroke="#1c1c1c" stroke-width="1.2"/>
<line x1="389.34" y1="123.50" x2="389.34" y2="148.60" stroke="#3b5a8b" stroke-width="0.7" stroke-opacity="0.6" stroke-linecap="butt"/>
<rect x="381.74" y="129.20" width="15.20" height="11.20" fill="none" stroke="#3b5a8b" stroke-width="0.75" stroke-opacity="0.75"/>
<line x1="381.74" y1="133.20" x2="396.94" y2="133.20" stroke="#3b5a8b" stroke-width="0.8250000000000001" stroke-opacity="0.85" stroke-linecap="butt"/>
<circle cx="389.34" cy="123.50" r="0.95" fill="#3b5a8b"/>
<circle cx="389.34" cy="148.60" r="0.95" fill="#3b5a8b"/>
<circle cx="389.34" cy="127.30" r="0.95" fill="#3b5a8b"/>
<circle cx="389.34" cy="126.05" r="0.95" fill="#3b5a8b"/>
<circle cx="389.34" cy="132.63" r="0.95" fill="#3b5a8b"/>
<circle cx="389.34" cy="124.14" r="0.95" fill="#3b5a8b"/>
<circle cx="389.34" cy="145.45" r="0.95" fill="#3b5a8b"/>
<circle cx="389.34" cy="138.91" r="0.95" fill="#3b5a8b"/>
<circle cx="389.34" cy="127.23" r="0.95" fill="#3b5a8b"/>
<circle cx="389.34" cy="132.03" r="0.95" fill="#3b5a8b"/>
<circle cx="389.34" cy="133.09" r="0.95" fill="#3b5a8b"/>
<circle cx="389.34" cy="133.28" r="0.95" fill="#3b5a8b"/>
<line x1="405.14" y1="128.80" x2="405.14" y2="145.50" stroke="#a6304b" stroke-width="0.7" stroke-opacity="0.6" stroke-linecap="butt"/>
<rect x="397.54" y="132.40" width="15.20" height="8.00" fill="none" stroke="#a6304b" stroke-width="0.75" stroke-opacity="0.75"/>
<line x1="397.54" y1="136.00" x2="412.74" y2="136.00" stroke="#a6304b" stroke-width="0.8250000000000001" stroke-opacity="0.85" stroke-linecap="butt"/>
<circle cx="405.14" cy="128.80" r="0.95" fill="#a6304b"/>
<circle cx="405.14" cy="145.50" r="0.95" fill="#a6304b"/>
<circle cx="405.14" cy="130.85" r="0.95" fill="#a6304b"/>
<circle cx="405.14" cy="142.98" r="0.95" fill="#a6304b"/>
<circle cx="405.14" cy="145.38" r="0.95" fill="#a6304b"/>
<circle cx="405.14" cy="136.58" r="0.95" fill="#a6304b"/>
<circle cx="405.14" cy="136.88" r="0.95" fill="#a6304b"/>
<circle cx="405.14" cy="133.09" r="0.95" fill="#a6304b"/>
<circle cx="405.14" cy="133.22" r="0.95" fill="#a6304b"/>
<line x1="428.40" y1="148.00" x2="428.40" y2="148.50" stroke="#3b5a8b" stroke-width="0.7" stroke-opacity="0.6" stroke-linecap="butt"/>
<line x1="420.80" y1="148.30" x2="436.00" y2="148.30" stroke="#3b5a8b" stroke-width="1.0" stroke-opacity="0.85" stroke-linecap="butt"/>
<circle cx="428.40" cy="148.00" r="0.95" fill="#3b5a8b"/>
<circle cx="428.40" cy="148.50" r="0.95" fill="#3b5a8b"/>
<circle cx="428.40" cy="148.17" r="0.95" fill="#3b5a8b"/>
<circle cx="428.40" cy="148.13" r="0.95" fill="#3b5a8b"/>
<circle cx="428.40" cy="148.41" r="0.95" fill="#3b5a8b"/>
<line x1="444.20" y1="148.00" x2="444.20" y2="148.50" stroke="#a6304b" stroke-width="0.7" stroke-opacity="0.6" stroke-linecap="butt"/>
<line x1="436.60" y1="148.30" x2="451.80" y2="148.30" stroke="#a6304b" stroke-width="1.0" stroke-opacity="0.85" stroke-linecap="butt"/>
<circle cx="444.20" cy="148.00" r="0.95" fill="#a6304b"/>
<circle cx="444.20" cy="148.50" r="0.95" fill="#a6304b"/>
<circle cx="444.20" cy="148.08" r="0.95" fill="#a6304b"/>
<circle cx="444.20" cy="148.01" r="0.95" fill="#a6304b"/>
<circle cx="444.20" cy="148.48" r="0.95" fill="#a6304b"/>
<line x1="467.46" y1="143.30" x2="467.46" y2="148.60" stroke="#3b5a8b" stroke-width="0.7" stroke-opacity="0.6" stroke-linecap="butt"/>
<line x1="459.86" y1="146.80" x2="475.06" y2="146.80" stroke="#3b5a8b" stroke-width="1.0" stroke-opacity="0.85" stroke-linecap="butt"/>
<circle cx="467.46" cy="143.30" r="0.95" fill="#3b5a8b"/>
<circle cx="467.46" cy="148.60" r="0.95" fill="#3b5a8b"/>
<circle cx="467.46" cy="146.10" r="0.95" fill="#3b5a8b"/>
<circle cx="467.46" cy="144.08" r="0.95" fill="#3b5a8b"/>
<circle cx="467.46" cy="146.83" r="0.95" fill="#3b5a8b"/>
<line x1="483.26" y1="148.00" x2="483.26" y2="148.50" stroke="#a6304b" stroke-width="0.7" stroke-opacity="0.6" stroke-linecap="butt"/>
<line x1="475.66" y1="148.30" x2="490.86" y2="148.30" stroke="#a6304b" stroke-width="1.0" stroke-opacity="0.85" stroke-linecap="butt"/>
<circle cx="483.26" cy="148.00" r="0.95" fill="#a6304b"/>
<circle cx="483.26" cy="148.50" r="0.95" fill="#a6304b"/>
<circle cx="483.26" cy="148.01" r="0.95" fill="#a6304b"/>
<circle cx="483.26" cy="148.26" r="0.95" fill="#a6304b"/>
<circle cx="483.26" cy="148.49" r="0.95" fill="#a6304b"/>
<rect x="373.80" y="92.60" width="125.00" height="58.20" fill="none" stroke="#1c1c1c" stroke-width="1.2"/>
<line x1="243.00" y1="148.50" x2="246.50" y2="148.50" stroke="#333" stroke-width="0.9" stroke-linecap="butt"/>
<text x="241.00" y="150.90" font-size="6.83" text-anchor="end" fill="#2a2a2a" stroke="#2a2a2a" stroke-width="0.08" textLength="3.39" lengthAdjust="spacingAndGlyphs">0</text>
<line x1="243.00" y1="134.72" x2="246.50" y2="134.72" stroke="#333" stroke-width="0.9" stroke-linecap="butt"/>
<text x="241.00" y="137.12" font-size="6.83" text-anchor="end" fill="#2a2a2a" stroke="#2a2a2a" stroke-width="0.08" textLength="6.79" lengthAdjust="spacingAndGlyphs">20</text>
<line x1="243.00" y1="120.95" x2="246.50" y2="120.95" stroke="#333" stroke-width="0.9" stroke-linecap="butt"/>
<text x="241.00" y="123.35" font-size="6.83" text-anchor="end" fill="#2a2a2a" stroke="#2a2a2a" stroke-width="0.08" textLength="6.79" lengthAdjust="spacingAndGlyphs">40</text>
<line x1="243.00" y1="107.18" x2="246.50" y2="107.18" stroke="#333" stroke-width="0.9" stroke-linecap="butt"/>
<text x="241.00" y="109.58" font-size="6.83" text-anchor="end" fill="#2a2a2a" stroke="#2a2a2a" stroke-width="0.08" textLength="6.79" lengthAdjust="spacingAndGlyphs">60</text>
<line x1="243.00" y1="93.40" x2="246.50" y2="93.40" stroke="#333" stroke-width="0.9" stroke-linecap="butt"/>
<text x="241.00" y="95.80" font-size="6.83" text-anchor="end" fill="#2a2a2a" stroke="#2a2a2a" stroke-width="0.08" textLength="6.79" lengthAdjust="spacingAndGlyphs">80</text>
<line x1="262.04" y1="178.30" x2="262.04" y2="209.20" stroke="#3b5a8b" stroke-width="0.7" stroke-opacity="0.6" stroke-linecap="butt"/>
<rect x="254.44" y="185.30" width="15.20" height="11.10" fill="none" stroke="#3b5a8b" stroke-width="0.75" stroke-opacity="0.75"/>
<line x1="254.44" y1="187.90" x2="269.64" y2="187.90" stroke="#3b5a8b" stroke-width="0.8250000000000001" stroke-opacity="0.85" stroke-linecap="butt"/>
<circle cx="262.04" cy="178.30" r="0.95" fill="#3b5a8b"/>
<circle cx="262.04" cy="209.20" r="0.95" fill="#3b5a8b"/>
<circle cx="262.04" cy="204.98" r="0.95" fill="#3b5a8b"/>
<circle cx="262.04" cy="199.81" r="0.95" fill="#3b5a8b"/>
<circle cx="262.04" cy="186.37" r="0.95" fill="#3b5a8b"/>
<circle cx="262.04" cy="189.63" r="0.95" fill="#3b5a8b"/>
<circle cx="262.04" cy="183.46" r="0.95" fill="#3b5a8b"/>
<circle cx="262.04" cy="202.15" r="0.95" fill="#3b5a8b"/>
<circle cx="262.04" cy="194.76" r="0.95" fill="#3b5a8b"/>
<circle cx="262.04" cy="202.37" r="0.95" fill="#3b5a8b"/>
<circle cx="262.04" cy="188.49" r="0.95" fill="#3b5a8b"/>
<circle cx="262.04" cy="187.78" r="0.95" fill="#3b5a8b"/>
<circle cx="262.04" cy="194.31" r="0.95" fill="#3b5a8b"/>
<circle cx="262.04" cy="196.23" r="0.95" fill="#3b5a8b"/>
<circle cx="262.04" cy="194.76" r="0.95" fill="#3b5a8b"/>
<circle cx="262.04" cy="167.80" r="0.95" fill="#3b5a8b"/>
<line x1="277.84" y1="188.20" x2="277.84" y2="207.90" stroke="#a6304b" stroke-width="0.7" stroke-opacity="0.6" stroke-linecap="butt"/>
<rect x="270.24" y="195.00" width="15.20" height="10.00" fill="none" stroke="#a6304b" stroke-width="0.75" stroke-opacity="0.75"/>
<line x1="270.24" y1="199.70" x2="285.44" y2="199.70" stroke="#a6304b" stroke-width="0.8250000000000001" stroke-opacity="0.85" stroke-linecap="butt"/>
<circle cx="277.84" cy="188.20" r="0.95" fill="#a6304b"/>
<circle cx="277.84" cy="207.90" r="0.95" fill="#a6304b"/>
<circle cx="277.84" cy="204.08" r="0.95" fill="#a6304b"/>
<circle cx="277.84" cy="204.32" r="0.95" fill="#a6304b"/>
<circle cx="277.84" cy="202.78" r="0.95" fill="#a6304b"/>
<circle cx="277.84" cy="192.67" r="0.95" fill="#a6304b"/>
<circle cx="277.84" cy="198.40" r="0.95" fill="#a6304b"/>
<circle cx="277.84" cy="195.20" r="0.95" fill="#a6304b"/>
<circle cx="277.84" cy="195.29" r="0.95" fill="#a6304b"/>
<circle cx="277.84" cy="195.28" r="0.95" fill="#a6304b"/>
<circle cx="277.84" cy="197.79" r="0.95" fill="#a6304b"/>
<circle cx="277.84" cy="171.70" r="0.95" fill="#a6304b"/>
<line x1="301.10" y1="209.30" x2="301.10" y2="209.70" stroke="#3b5a8b" stroke-width="0.7" stroke-opacity="0.6" stroke-linecap="butt"/>
<line x1="293.50" y1="209.50" x2="308.70" y2="209.50" stroke="#3b5a8b" stroke-width="1.0" stroke-opacity="0.85" stroke-linecap="butt"/>
<circle cx="301.10" cy="209.30" r="0.95" fill="#3b5a8b"/>
<circle cx="301.10" cy="209.70" r="0.95" fill="#3b5a8b"/>
<circle cx="301.10" cy="209.40" r="0.95" fill="#3b5a8b"/>
<circle cx="301.10" cy="209.58" r="0.95" fill="#3b5a8b"/>
<circle cx="301.10" cy="209.68" r="0.95" fill="#3b5a8b"/>
<circle cx="301.10" cy="199.70" r="0.95" fill="#3b5a8b"/>
<line x1="316.90" y1="209.30" x2="316.90" y2="209.70" stroke="#a6304b" stroke-width="0.7" stroke-opacity="0.6" stroke-linecap="butt"/>
<line x1="309.30" y1="209.50" x2="324.50" y2="209.50" stroke="#a6304b" stroke-width="1.0" stroke-opacity="0.85" stroke-linecap="butt"/>
<circle cx="316.90" cy="209.30" r="0.95" fill="#a6304b"/>
<circle cx="316.90" cy="209.70" r="0.95" fill="#a6304b"/>
<circle cx="316.90" cy="209.48" r="0.95" fill="#a6304b"/>
<circle cx="316.90" cy="209.67" r="0.95" fill="#a6304b"/>
<circle cx="316.90" cy="209.69" r="0.95" fill="#a6304b"/>
<line x1="340.16" y1="192.80" x2="340.16" y2="209.90" stroke="#3b5a8b" stroke-width="0.7" stroke-opacity="0.6" stroke-linecap="butt"/>
<rect x="332.56" y="199.30" width="15.20" height="7.30" fill="none" stroke="#3b5a8b" stroke-width="0.75" stroke-opacity="0.75"/>
<line x1="332.56" y1="203.00" x2="347.76" y2="203.00" stroke="#3b5a8b" stroke-width="0.8250000000000001" stroke-opacity="0.85" stroke-linecap="butt"/>
<circle cx="340.16" cy="192.80" r="0.95" fill="#3b5a8b"/>
<circle cx="340.16" cy="209.90" r="0.95" fill="#3b5a8b"/>
<circle cx="340.16" cy="209.13" r="0.95" fill="#3b5a8b"/>
<circle cx="340.16" cy="199.04" r="0.95" fill="#3b5a8b"/>
<circle cx="340.16" cy="196.57" r="0.95" fill="#3b5a8b"/>
<circle cx="340.16" cy="196.68" r="0.95" fill="#3b5a8b"/>
<circle cx="340.16" cy="196.16" r="0.95" fill="#3b5a8b"/>
<circle cx="340.16" cy="200.79" r="0.95" fill="#3b5a8b"/>
<circle cx="340.16" cy="203.86" r="0.95" fill="#3b5a8b"/>
<line x1="355.96" y1="209.30" x2="355.96" y2="209.70" stroke="#a6304b" stroke-width="0.7" stroke-opacity="0.6" stroke-linecap="butt"/>
<line x1="348.36" y1="209.50" x2="363.56" y2="209.50" stroke="#a6304b" stroke-width="1.0" stroke-opacity="0.85" stroke-linecap="butt"/>
<circle cx="355.96" cy="209.30" r="0.95" fill="#a6304b"/>
<circle cx="355.96" cy="209.70" r="0.95" fill="#a6304b"/>
<circle cx="355.96" cy="209.66" r="0.95" fill="#a6304b"/>
<circle cx="355.96" cy="209.64" r="0.95" fill="#a6304b"/>
<circle cx="355.96" cy="209.44" r="0.95" fill="#a6304b"/>
<rect x="246.50" y="153.30" width="125.00" height="59.00" fill="none" stroke="#1c1c1c" stroke-width="1.2"/>
<line x1="389.34" y1="162.50" x2="389.34" y2="209.20" stroke="#3b5a8b" stroke-width="0.7" stroke-opacity="0.6" stroke-linecap="butt"/>
<rect x="381.74" y="172.10" width="15.20" height="25.00" fill="none" stroke="#3b5a8b" stroke-width="0.75" stroke-opacity="0.75"/>
<line x1="381.74" y1="185.90" x2="396.94" y2="185.90" stroke="#3b5a8b" stroke-width="0.8250000000000001" stroke-opacity="0.85" stroke-linecap="butt"/>
<circle cx="389.34" cy="162.50" r="0.95" fill="#3b5a8b"/>
<circle cx="389.34" cy="209.20" r="0.95" fill="#3b5a8b"/>
<circle cx="389.34" cy="192.99" r="0.95" fill="#3b5a8b"/>
<circle cx="389.34" cy="199.84" r="0.95" fill="#3b5a8b"/>
<circle cx="389.34" cy="166.46" r="0.95" fill="#3b5a8b"/>
<circle cx="389.34" cy="193.35" r="0.95" fill="#3b5a8b"/>
<circle cx="389.34" cy="204.99" r="0.95" fill="#3b5a8b"/>
<circle cx="389.34" cy="199.03" r="0.95" fill="#3b5a8b"/>
<circle cx="389.34" cy="197.53" r="0.95" fill="#3b5a8b"/>
<circle cx="389.34" cy="184.82" r="0.95" fill="#3b5a8b"/>
<circle cx="389.34" cy="170.84" r="0.95" fill="#3b5a8b"/>
<circle cx="389.34" cy="199.35" r="0.95" fill="#3b5a8b"/>
<circle cx="389.34" cy="178.03" r="0.95" fill="#3b5a8b"/>
<circle cx="389.34" cy="199.90" r="0.95" fill="#3b5a8b"/>
<circle cx="389.34" cy="207.88" r="0.95" fill="#3b5a8b"/>
<circle cx="389.34" cy="180.99" r="0.95" fill="#3b5a8b"/>
<circle cx="389.34" cy="182.13" r="0.95" fill="#3b5a8b"/>
<circle cx="389.34" cy="195.77" r="0.95" fill="#3b5a8b"/>
<circle cx="389.34" cy="190.22" r="0.95" fill="#3b5a8b"/>
<circle cx="389.34" cy="176.35" r="0.95" fill="#3b5a8b"/>
<circle cx="389.34" cy="175.28" r="0.95" fill="#3b5a8b"/>
<circle cx="389.34" cy="175.88" r="0.95" fill="#3b5a8b"/>
<circle cx="389.34" cy="194.72" r="0.95" fill="#3b5a8b"/>
<line x1="405.14" y1="177.60" x2="405.14" y2="205.30" stroke="#a6304b" stroke-width="0.7" stroke-opacity="0.6" stroke-linecap="butt"/>
<rect x="397.54" y="188.80" width="15.20" height="8.30" fill="none" stroke="#a6304b" stroke-width="0.75" stroke-opacity="0.75"/>
<line x1="397.54" y1="193.20" x2="412.74" y2="193.20" stroke="#a6304b" stroke-width="0.8250000000000001" stroke-opacity="0.85" stroke-linecap="butt"/>
<circle cx="405.14" cy="177.60" r="0.95" fill="#a6304b"/>
<circle cx="405.14" cy="205.30" r="0.95" fill="#a6304b"/>
<circle cx="405.14" cy="199.94" r="0.95" fill="#a6304b"/>
<circle cx="405.14" cy="181.65" r="0.95" fill="#a6304b"/>
<circle cx="405.14" cy="200.49" r="0.95" fill="#a6304b"/>
<circle cx="405.14" cy="204.75" r="0.95" fill="#a6304b"/>
<circle cx="405.14" cy="195.81" r="0.95" fill="#a6304b"/>
<circle cx="405.14" cy="187.31" r="0.95" fill="#a6304b"/>
<circle cx="405.14" cy="192.80" r="0.95" fill="#a6304b"/>
<circle cx="405.14" cy="181.23" r="0.95" fill="#a6304b"/>
<circle cx="405.14" cy="188.92" r="0.95" fill="#a6304b"/>
<circle cx="405.14" cy="196.86" r="0.95" fill="#a6304b"/>
<circle cx="405.14" cy="194.19" r="0.95" fill="#a6304b"/>
<circle cx="405.14" cy="193.17" r="0.95" fill="#a6304b"/>
<line x1="428.40" y1="209.30" x2="428.40" y2="209.70" stroke="#3b5a8b" stroke-width="0.7" stroke-opacity="0.6" stroke-linecap="butt"/>
<line x1="420.80" y1="209.50" x2="436.00" y2="209.50" stroke="#3b5a8b" stroke-width="1.0" stroke-opacity="0.85" stroke-linecap="butt"/>
<circle cx="428.40" cy="209.30" r="0.95" fill="#3b5a8b"/>
<circle cx="428.40" cy="209.70" r="0.95" fill="#3b5a8b"/>
<circle cx="428.40" cy="209.67" r="0.95" fill="#3b5a8b"/>
<circle cx="428.40" cy="209.47" r="0.95" fill="#3b5a8b"/>
<circle cx="428.40" cy="209.64" r="0.95" fill="#3b5a8b"/>
<circle cx="428.40" cy="205.00" r="0.95" fill="#3b5a8b"/>
<line x1="444.20" y1="209.30" x2="444.20" y2="209.70" stroke="#a6304b" stroke-width="0.7" stroke-opacity="0.6" stroke-linecap="butt"/>
<line x1="436.60" y1="209.50" x2="451.80" y2="209.50" stroke="#a6304b" stroke-width="1.0" stroke-opacity="0.85" stroke-linecap="butt"/>
<circle cx="444.20" cy="209.30" r="0.95" fill="#a6304b"/>
<circle cx="444.20" cy="209.70" r="0.95" fill="#a6304b"/>
<circle cx="444.20" cy="209.63" r="0.95" fill="#a6304b"/>
<circle cx="444.20" cy="209.38" r="0.95" fill="#a6304b"/>
<circle cx="444.20" cy="209.33" r="0.95" fill="#a6304b"/>
<line x1="467.46" y1="194.40" x2="467.46" y2="210.00" stroke="#3b5a8b" stroke-width="0.7" stroke-opacity="0.6" stroke-linecap="butt"/>
<rect x="459.86" y="203.10" width="15.20" height="4.40" fill="#3b5a8b" stroke="#3b5a8b" stroke-width="0.75" stroke-opacity="0.75" fill-opacity="0.35"/>
<line x1="459.86" y1="205.30" x2="475.06" y2="205.30" stroke="#3b5a8b" stroke-width="0.8250000000000001" stroke-opacity="0.85" stroke-linecap="butt"/>
<circle cx="467.46" cy="194.40" r="0.95" fill="#3b5a8b"/>
<circle cx="467.46" cy="210.00" r="0.95" fill="#3b5a8b"/>
<circle cx="467.46" cy="198.97" r="0.95" fill="#3b5a8b"/>
<circle cx="467.46" cy="198.15" r="0.95" fill="#3b5a8b"/>
<circle cx="467.46" cy="203.55" r="0.95" fill="#3b5a8b"/>
<circle cx="467.46" cy="198.45" r="0.95" fill="#3b5a8b"/>
<circle cx="467.46" cy="204.94" r="0.95" fill="#3b5a8b"/>
<circle cx="467.46" cy="203.68" r="0.95" fill="#3b5a8b"/>
<line x1="483.26" y1="209.30" x2="483.26" y2="209.70" stroke="#a6304b" stroke-width="0.7" stroke-opacity="0.6" stroke-linecap="butt"/>
<line x1="475.66" y1="209.50" x2="490.86" y2="209.50" stroke="#a6304b" stroke-width="1.0" stroke-opacity="0.85" stroke-linecap="butt"/>
<circle cx="483.26" cy="209.30" r="0.95" fill="#a6304b"/>
<circle cx="483.26" cy="209.70" r="0.95" fill="#a6304b"/>
<circle cx="483.26" cy="209.66" r="0.95" fill="#a6304b"/>
<circle cx="483.26" cy="209.44" r="0.95" fill="#a6304b"/>
<circle cx="483.26" cy="209.43" r="0.95" fill="#a6304b"/>
<rect x="373.80" y="153.30" width="125.00" height="59.00" fill="none" stroke="#1c1c1c" stroke-width="1.2"/>
<line x1="243.00" y1="209.50" x2="246.50" y2="209.50" stroke="#333" stroke-width="0.9" stroke-linecap="butt"/>
<text x="241.00" y="211.90" font-size="6.83" text-anchor="end" fill="#2a2a2a" stroke="#2a2a2a" stroke-width="0.08" textLength="3.39" lengthAdjust="spacingAndGlyphs">0</text>
<line x1="243.00" y1="195.72" x2="246.50" y2="195.72" stroke="#333" stroke-width="0.9" stroke-linecap="butt"/>
<text x="241.00" y="198.12" font-size="6.83" text-anchor="end" fill="#2a2a2a" stroke="#2a2a2a" stroke-width="0.08" textLength="6.79" lengthAdjust="spacingAndGlyphs">20</text>
<line x1="243.00" y1="181.95" x2="246.50" y2="181.95" stroke="#333" stroke-width="0.9" stroke-linecap="butt"/>
<text x="241.00" y="184.35" font-size="6.83" text-anchor="end" fill="#2a2a2a" stroke="#2a2a2a" stroke-width="0.08" textLength="6.79" lengthAdjust="spacingAndGlyphs">40</text>
<line x1="243.00" y1="168.18" x2="246.50" y2="168.18" stroke="#333" stroke-width="0.9" stroke-linecap="butt"/>
<text x="241.00" y="170.58" font-size="6.83" text-anchor="end" fill="#2a2a2a" stroke="#2a2a2a" stroke-width="0.08" textLength="6.79" lengthAdjust="spacingAndGlyphs">60</text>
<line x1="243.00" y1="154.40" x2="246.50" y2="154.40" stroke="#333" stroke-width="0.9" stroke-linecap="butt"/>
<text x="241.00" y="156.80" font-size="6.83" text-anchor="end" fill="#2a2a2a" stroke="#2a2a2a" stroke-width="0.08" textLength="6.79" lengthAdjust="spacingAndGlyphs">80</text>
<line x1="269.94" y1="212.30" x2="269.94" y2="214.90" stroke="#1c1c1c" stroke-width="0.9" stroke-linecap="butt"/>
<text x="269.94" y="224.20" font-size="6.61" text-anchor="middle" fill="#222" stroke="#222" stroke-width="0.14" textLength="31.15" lengthAdjust="spacingAndGlyphs">PMA–IONO</text>
<line x1="309.00" y1="212.30" x2="309.00" y2="214.90" stroke="#1c1c1c" stroke-width="0.9" stroke-linecap="butt"/>
<text x="309.00" y="224.20" font-size="6.61" text-anchor="middle" fill="#222" stroke="#222" stroke-width="0.14" textLength="6.89" lengthAdjust="spacingAndGlyphs">T2</text>
<line x1="348.06" y1="212.30" x2="348.06" y2="214.90" stroke="#1c1c1c" stroke-width="0.9" stroke-linecap="butt"/>
<text x="348.06" y="224.20" font-size="6.61" text-anchor="middle" fill="#222" stroke="#222" stroke-width="0.14" textLength="34.1" lengthAdjust="spacingAndGlyphs">T2–NY–ESO</text>
<line x1="397.24" y1="212.30" x2="397.24" y2="214.90" stroke="#1c1c1c" stroke-width="0.9" stroke-linecap="butt"/>
<text x="397.24" y="224.20" font-size="6.61" text-anchor="middle" fill="#222" stroke="#222" stroke-width="0.14" textLength="31.15" lengthAdjust="spacingAndGlyphs">PMA–IONO</text>
<line x1="436.30" y1="212.30" x2="436.30" y2="214.90" stroke="#1c1c1c" stroke-width="0.9" stroke-linecap="butt"/>
<text x="436.30" y="224.20" font-size="6.61" text-anchor="middle" fill="#222" stroke="#222" stroke-width="0.14" textLength="6.89" lengthAdjust="spacingAndGlyphs">T2</text>
<line x1="475.36" y1="212.30" x2="475.36" y2="214.90" stroke="#1c1c1c" stroke-width="0.9" stroke-linecap="butt"/>
<text x="475.36" y="224.20" font-size="6.61" text-anchor="middle" fill="#222" stroke="#222" stroke-width="0.14" textLength="34.1" lengthAdjust="spacingAndGlyphs">T2–NY–ESO</text>
<text x="227.20" y="121.00" font-size="8.8" text-anchor="middle" fill="#2a2a2a" stroke="#2a2a2a" stroke-width="0.1" transform="rotate(-90 227.20 121.00)" textLength="140.5" lengthAdjust="spacingAndGlyphs">Percentage of cells producing cytokine</text>
<rect x="343.10" y="233.50" width="4.6" height="4.6" rx="1.6" fill="#3b5a8b" fill-opacity="0.3" stroke="#3b5a8b" stroke-opacity="0.55" stroke-width="0.7"/>
<line x1="345.40" y1="233.40" x2="345.40" y2="238.20" stroke="#3b5a8b" stroke-width="0.7" stroke-opacity="0.7" stroke-linecap="butt"/>
<circle cx="345.40" cy="235.80" r="0.9" fill="#3b5a8b"/>
<text x="350.80" y="238.00" font-size="6.72" text-anchor="start" fill="#2a2a2a" stroke="#2a2a2a" stroke-width="0.14" textLength="9.0" lengthAdjust="spacingAndGlyphs">MP</text>
<rect x="369.50" y="233.50" width="4.6" height="4.6" rx="1.6" fill="#a6304b" fill-opacity="0.3" stroke="#a6304b" stroke-opacity="0.55" stroke-width="0.7"/>
<line x1="371.80" y1="233.40" x2="371.80" y2="238.20" stroke="#a6304b" stroke-width="0.7" stroke-opacity="0.7" stroke-linecap="butt"/>
<circle cx="371.80" cy="235.80" r="0.9" fill="#a6304b"/>
<text x="377.70" y="238.00" font-size="6.72" text-anchor="start" fill="#2a2a2a" stroke="#2a2a2a" stroke-width="0.14" textLength="22.5" lengthAdjust="spacingAndGlyphs">Day −50</text>
<text x="6.60" y="265.20" font-size="11.5" text-anchor="start" fill="#111" stroke="#111" stroke-width="0.1" textLength="7.6" lengthAdjust="spacingAndGlyphs">C</text>
<text x="118.20" y="267.20" font-size="8.3" text-anchor="middle" fill="#111" stroke="#111" stroke-width="0.1" textLength="77" lengthAdjust="spacingAndGlyphs">Number of Functions</text>
<rect x="41.30" y="368.30" width="163.40" height="2.50" fill="#e8e8e8"/>
<rect x="117.30" y="270.20" width="2.00" height="189.60" fill="#fefefd"/>
<rect x="41.30" y="270.20" width="76.00" height="9.10" fill="#c6c3c2" stroke="#1c1c1c" stroke-width="1.1"/>
<text x="79.30" y="277.15" font-size="6.72" text-anchor="middle" fill="#2a2a2a" stroke="#2a2a2a" stroke-width="0.1" textLength="19.01" lengthAdjust="spacingAndGlyphs">Day 21</text>
<rect x="119.30" y="270.20" width="76.00" height="9.10" fill="#c6c3c2" stroke="#1c1c1c" stroke-width="1.1"/>
<text x="157.30" y="277.15" font-size="6.72" text-anchor="middle" fill="#2a2a2a" stroke="#2a2a2a" stroke-width="0.1" textLength="19.01" lengthAdjust="spacingAndGlyphs">Day 42</text>
<rect x="195.30" y="279.30" width="9.40" height="89.00" fill="#c6c3c2" stroke="#1c1c1c" stroke-width="1.1"/>
<text x="197.60" y="324.30" font-size="6.72" text-anchor="middle" fill="#2a2a2a" stroke="#2a2a2a" stroke-width="0.08" transform="rotate(90 197.60 324.30)" textLength="12.0" lengthAdjust="spacingAndGlyphs">CD4</text>
<rect x="195.30" y="370.80" width="9.40" height="89.00" fill="#c6c3c2" stroke="#1c1c1c" stroke-width="1.1"/>
<text x="197.60" y="415.80" font-size="6.72" text-anchor="middle" fill="#2a2a2a" stroke="#2a2a2a" stroke-width="0.08" transform="rotate(90 197.60 415.80)" textLength="12.0" lengthAdjust="spacingAndGlyphs">CD8</text>
<line x1="50.95" y1="302.30" x2="50.95" y2="308.10" stroke="#a6304b" stroke-width="0.7" stroke-opacity="0.7" stroke-linecap="butt"/>
<line x1="50.95" y1="321.80" x2="50.95" y2="326.70" stroke="#a6304b" stroke-width="0.7" stroke-opacity="0.7" stroke-linecap="butt"/>
<rect x="46.35" y="308.10" width="9.20" height="13.70" fill="none" stroke="#a6304b" stroke-width="0.75" stroke-opacity="0.75"/>
<line x1="46.35" y1="314.50" x2="55.55" y2="314.50" stroke="#a6304b" stroke-width="0.8250000000000001" stroke-opacity="0.85" stroke-linecap="butt"/>
<circle cx="53.78" cy="316.09" r="0.95" fill="#a6304b"/>
<circle cx="53.87" cy="313.86" r="0.95" fill="#a6304b"/>
<circle cx="51.17" cy="314.97" r="0.95" fill="#a6304b"/>
<circle cx="47.58" cy="315.07" r="0.95" fill="#a6304b"/>
<circle cx="48.73" cy="313.04" r="0.95" fill="#a6304b"/>
<circle cx="47.97" cy="302.30" r="0.95" fill="#a6304b"/>
<circle cx="52.75" cy="326.70" r="0.95" fill="#a6304b"/>
<line x1="60.15" y1="296.70" x2="60.15" y2="306.30" stroke="#3b5a8b" stroke-width="0.7" stroke-opacity="0.7" stroke-linecap="butt"/>
<line x1="60.15" y1="318.20" x2="60.15" y2="318.20" stroke="#3b5a8b" stroke-width="0.7" stroke-opacity="0.7" stroke-linecap="butt"/>
<rect x="55.55" y="306.30" width="9.20" height="11.90" fill="none" stroke="#3b5a8b" stroke-width="0.75" stroke-opacity="0.75"/>
<line x1="55.55" y1="311.80" x2="64.75" y2="311.80" stroke="#3b5a8b" stroke-width="0.8250000000000001" stroke-opacity="0.85" stroke-linecap="butt"/>
<circle cx="59.96" cy="308.35" r="0.95" fill="#3b5a8b"/>
<circle cx="60.55" cy="314.93" r="0.95" fill="#3b5a8b"/>
<circle cx="60.28" cy="310.18" r="0.95" fill="#3b5a8b"/>
<circle cx="62.14" cy="308.64" r="0.95" fill="#3b5a8b"/>
<circle cx="60.57" cy="298.98" r="0.95" fill="#3b5a8b"/>
<circle cx="58.64" cy="296.70" r="0.95" fill="#3b5a8b"/>
<circle cx="58.81" cy="318.20" r="0.95" fill="#3b5a8b"/>
<line x1="74.70" y1="324.50" x2="74.70" y2="333.60" stroke="#a6304b" stroke-width="0.7" stroke-opacity="0.7" stroke-linecap="butt"/>
<line x1="74.70" y1="342.40" x2="74.70" y2="344.60" stroke="#a6304b" stroke-width="0.7" stroke-opacity="0.7" stroke-linecap="butt"/>
<rect x="70.10" y="333.60" width="9.20" height="8.80" fill="none" stroke="#a6304b" stroke-width="0.75" stroke-opacity="0.75"/>
<line x1="70.10" y1="336.90" x2="79.30" y2="336.90" stroke="#a6304b" stroke-width="0.8250000000000001" stroke-opacity="0.85" stroke-linecap="butt"/>
<circle cx="74.75" cy="340.40" r="0.95" fill="#a6304b"/>
<circle cx="76.52" cy="338.54" r="0.95" fill="#a6304b"/>
<circle cx="74.30" cy="341.63" r="0.95" fill="#a6304b"/>
<circle cx="74.74" cy="336.81" r="0.95" fill="#a6304b"/>
<circle cx="76.05" cy="334.79" r="0.95" fill="#a6304b"/>
<circle cx="74.41" cy="324.50" r="0.95" fill="#a6304b"/>
<circle cx="74.90" cy="344.60" r="0.95" fill="#a6304b"/>
<line x1="83.90" y1="331.80" x2="83.90" y2="336.40" stroke="#3b5a8b" stroke-width="0.7" stroke-opacity="0.7" stroke-linecap="butt"/>
<line x1="83.90" y1="343.70" x2="83.90" y2="350.00" stroke="#3b5a8b" stroke-width="0.7" stroke-opacity="0.7" stroke-linecap="butt"/>
<rect x="79.30" y="336.40" width="9.20" height="7.30" fill="none" stroke="#3b5a8b" stroke-width="0.75" stroke-opacity="0.75"/>
<line x1="79.30" y1="340.00" x2="88.50" y2="340.00" stroke="#3b5a8b" stroke-width="0.8250000000000001" stroke-opacity="0.85" stroke-linecap="butt"/>
<circle cx="86.99" cy="339.89" r="0.95" fill="#3b5a8b"/>
<circle cx="86.54" cy="341.50" r="0.95" fill="#3b5a8b"/>
<circle cx="82.22" cy="343.28" r="0.95" fill="#3b5a8b"/>
<circle cx="87.00" cy="341.98" r="0.95" fill="#3b5a8b"/>
<circle cx="81.36" cy="347.09" r="0.95" fill="#3b5a8b"/>
<circle cx="81.63" cy="331.80" r="0.95" fill="#3b5a8b"/>
<circle cx="83.55" cy="350.00" r="0.95" fill="#3b5a8b"/>
<line x1="98.45" y1="349.10" x2="98.45" y2="355.10" stroke="#a6304b" stroke-width="0.7" stroke-opacity="0.7" stroke-linecap="butt"/>
<line x1="98.45" y1="361.00" x2="98.45" y2="363.00" stroke="#a6304b" stroke-width="0.7" stroke-opacity="0.7" stroke-linecap="butt"/>
<rect x="93.85" y="355.10" width="9.20" height="5.90" fill="none" stroke="#a6304b" stroke-width="0.75" stroke-opacity="0.75"/>
<line x1="93.85" y1="359.10" x2="103.05" y2="359.10" stroke="#a6304b" stroke-width="0.8250000000000001" stroke-opacity="0.85" stroke-linecap="butt"/>
<circle cx="96.63" cy="355.53" r="0.95" fill="#a6304b"/>
<circle cx="99.64" cy="355.53" r="0.95" fill="#a6304b"/>
<circle cx="101.23" cy="359.73" r="0.95" fill="#a6304b"/>
<circle cx="99.96" cy="351.25" r="0.95" fill="#a6304b"/>
<circle cx="95.95" cy="358.28" r="0.95" fill="#a6304b"/>
<circle cx="100.75" cy="349.10" r="0.95" fill="#a6304b"/>
<circle cx="101.26" cy="363.00" r="0.95" fill="#a6304b"/>
<line x1="107.65" y1="353.30" x2="107.65" y2="359.10" stroke="#3b5a8b" stroke-width="0.7" stroke-opacity="0.7" stroke-linecap="butt"/>
<line x1="107.65" y1="362.80" x2="107.65" y2="364.00" stroke="#3b5a8b" stroke-width="0.7" stroke-opacity="0.7" stroke-linecap="butt"/>
<rect x="103.05" y="359.10" width="9.20" height="3.70" fill="none" stroke="#3b5a8b" stroke-width="0.75" stroke-opacity="0.75"/>
<line x1="103.05" y1="361.00" x2="112.25" y2="361.00" stroke="#3b5a8b" stroke-width="0.8250000000000001" stroke-opacity="0.85" stroke-linecap="butt"/>
<circle cx="110.82" cy="359.91" r="0.95" fill="#3b5a8b"/>
<circle cx="107.56" cy="360.57" r="0.95" fill="#3b5a8b"/>
<circle cx="109.98" cy="362.76" r="0.95" fill="#3b5a8b"/>
<circle cx="107.17" cy="355.03" r="0.95" fill="#3b5a8b"/>
<circle cx="106.52" cy="358.82" r="0.95" fill="#3b5a8b"/>
<circle cx="105.82" cy="353.30" r="0.95" fill="#3b5a8b"/>
<circle cx="106.56" cy="364.00" r="0.95" fill="#3b5a8b"/>
<rect x="41.30" y="279.30" width="76.00" height="89.00" fill="none" stroke="#1c1c1c" stroke-width="1.2"/>
<line x1="128.95" y1="289.00" x2="128.95" y2="299.40" stroke="#a6304b" stroke-width="0.7" stroke-opacity="0.7" stroke-linecap="butt"/>
<line x1="128.95" y1="323.60" x2="128.95" y2="328.20" stroke="#a6304b" stroke-width="0.7" stroke-opacity="0.7" stroke-linecap="butt"/>
<rect x="124.35" y="299.40" width="9.20" height="24.20" fill="none" stroke="#a6304b" stroke-width="0.75" stroke-opacity="0.75"/>
<line x1="124.35" y1="310.00" x2="133.55" y2="310.00" stroke="#a6304b" stroke-width="0.8250000000000001" stroke-opacity="0.85" stroke-linecap="butt"/>
<circle cx="125.59" cy="316.88" r="0.95" fill="#a6304b"/>
<circle cx="128.53" cy="312.81" r="0.95" fill="#a6304b"/>
<circle cx="127.77" cy="299.84" r="0.95" fill="#a6304b"/>
<circle cx="129.04" cy="313.46" r="0.95" fill="#a6304b"/>
<circle cx="132.35" cy="291.52" r="0.95" fill="#a6304b"/>
<circle cx="130.68" cy="289.00" r="0.95" fill="#a6304b"/>
<circle cx="131.78" cy="328.20" r="0.95" fill="#a6304b"/>
<line x1="138.15" y1="307.00" x2="138.15" y2="307.20" stroke="#3b5a8b" stroke-width="0.7" stroke-opacity="0.7" stroke-linecap="butt"/>
<line x1="138.15" y1="319.40" x2="138.15" y2="326.00" stroke="#3b5a8b" stroke-width="0.7" stroke-opacity="0.7" stroke-linecap="butt"/>
<rect x="133.55" y="307.20" width="9.20" height="12.20" fill="none" stroke="#3b5a8b" stroke-width="0.75" stroke-opacity="0.75"/>
<line x1="133.55" y1="313.60" x2="142.75" y2="313.60" stroke="#3b5a8b" stroke-width="0.8250000000000001" stroke-opacity="0.85" stroke-linecap="butt"/>
<circle cx="136.51" cy="308.48" r="0.95" fill="#3b5a8b"/>
<circle cx="140.10" cy="307.68" r="0.95" fill="#3b5a8b"/>
<circle cx="135.56" cy="310.50" r="0.95" fill="#3b5a8b"/>
<circle cx="141.03" cy="315.02" r="0.95" fill="#3b5a8b"/>
<circle cx="136.46" cy="322.56" r="0.95" fill="#3b5a8b"/>
<circle cx="136.05" cy="307.00" r="0.95" fill="#3b5a8b"/>
<circle cx="140.67" cy="326.00" r="0.95" fill="#3b5a8b"/>
<line x1="152.70" y1="322.20" x2="152.70" y2="335.10" stroke="#a6304b" stroke-width="0.7" stroke-opacity="0.7" stroke-linecap="butt"/>
<line x1="152.70" y1="350.60" x2="152.70" y2="356.00" stroke="#a6304b" stroke-width="0.7" stroke-opacity="0.7" stroke-linecap="butt"/>
<rect x="148.10" y="335.10" width="9.20" height="15.50" fill="none" stroke="#a6304b" stroke-width="0.75" stroke-opacity="0.75"/>
<line x1="148.10" y1="342.80" x2="157.30" y2="342.80" stroke="#a6304b" stroke-width="0.8250000000000001" stroke-opacity="0.85" stroke-linecap="butt"/>
<circle cx="154.10" cy="343.94" r="0.95" fill="#a6304b"/>
<circle cx="149.60" cy="336.49" r="0.95" fill="#a6304b"/>
<circle cx="152.18" cy="345.77" r="0.95" fill="#a6304b"/>
<circle cx="155.77" cy="324.65" r="0.95" fill="#a6304b"/>
<circle cx="154.81" cy="343.64" r="0.95" fill="#a6304b"/>
<circle cx="150.20" cy="322.20" r="0.95" fill="#a6304b"/>
<circle cx="154.84" cy="356.00" r="0.95" fill="#a6304b"/>
<line x1="161.90" y1="328.20" x2="161.90" y2="333.30" stroke="#3b5a8b" stroke-width="0.7" stroke-opacity="0.7" stroke-linecap="butt"/>
<line x1="161.90" y1="341.80" x2="161.90" y2="341.80" stroke="#3b5a8b" stroke-width="0.7" stroke-opacity="0.7" stroke-linecap="butt"/>
<rect x="157.30" y="333.30" width="9.20" height="8.50" fill="none" stroke="#3b5a8b" stroke-width="0.75" stroke-opacity="0.75"/>
<line x1="157.30" y1="337.30" x2="166.50" y2="337.30" stroke="#3b5a8b" stroke-width="0.8250000000000001" stroke-opacity="0.85" stroke-linecap="butt"/>
<circle cx="164.44" cy="333.87" r="0.95" fill="#3b5a8b"/>
<circle cx="160.77" cy="337.16" r="0.95" fill="#3b5a8b"/>
<circle cx="164.89" cy="338.00" r="0.95" fill="#3b5a8b"/>
<circle cx="159.30" cy="331.84" r="0.95" fill="#3b5a8b"/>
<circle cx="160.07" cy="335.37" r="0.95" fill="#3b5a8b"/>
<circle cx="159.56" cy="328.20" r="0.95" fill="#3b5a8b"/>
<circle cx="159.87" cy="341.80" r="0.95" fill="#3b5a8b"/>
<line x1="176.45" y1="351.00" x2="176.45" y2="355.50" stroke="#a6304b" stroke-width="0.7" stroke-opacity="0.7" stroke-linecap="butt"/>
<line x1="176.45" y1="361.00" x2="176.45" y2="363.00" stroke="#a6304b" stroke-width="0.7" stroke-opacity="0.7" stroke-linecap="butt"/>
<rect x="171.85" y="355.50" width="9.20" height="5.50" fill="none" stroke="#a6304b" stroke-width="0.75" stroke-opacity="0.75"/>
<line x1="171.85" y1="359.10" x2="181.05" y2="359.10" stroke="#a6304b" stroke-width="0.8250000000000001" stroke-opacity="0.85" stroke-linecap="butt"/>
<circle cx="174.36" cy="355.78" r="0.95" fill="#a6304b"/>
<circle cx="175.09" cy="357.22" r="0.95" fill="#a6304b"/>
<circle cx="174.98" cy="359.68" r="0.95" fill="#a6304b"/>
<circle cx="174.20" cy="357.00" r="0.95" fill="#a6304b"/>
<circle cx="173.08" cy="355.16" r="0.95" fill="#a6304b"/>
<circle cx="174.95" cy="351.00" r="0.95" fill="#a6304b"/>
<circle cx="173.54" cy="363.00" r="0.95" fill="#a6304b"/>
<line x1="185.65" y1="352.00" x2="185.65" y2="359.50" stroke="#3b5a8b" stroke-width="0.7" stroke-opacity="0.7" stroke-linecap="butt"/>
<line x1="185.65" y1="362.40" x2="185.65" y2="364.00" stroke="#3b5a8b" stroke-width="0.7" stroke-opacity="0.7" stroke-linecap="butt"/>
<rect x="181.05" y="359.50" width="9.20" height="2.90" fill="none" stroke="#3b5a8b" stroke-width="0.75" stroke-opacity="0.75"/>
<line x1="181.05" y1="361.00" x2="190.25" y2="361.00" stroke="#3b5a8b" stroke-width="0.8250000000000001" stroke-opacity="0.85" stroke-linecap="butt"/>
<circle cx="186.01" cy="361.63" r="0.95" fill="#3b5a8b"/>
<circle cx="185.47" cy="360.05" r="0.95" fill="#3b5a8b"/>
<circle cx="182.89" cy="362.21" r="0.95" fill="#3b5a8b"/>
<circle cx="185.18" cy="361.83" r="0.95" fill="#3b5a8b"/>
<circle cx="187.99" cy="357.94" r="0.95" fill="#3b5a8b"/>
<circle cx="185.01" cy="352.00" r="0.95" fill="#3b5a8b"/>
<circle cx="185.69" cy="364.00" r="0.95" fill="#3b5a8b"/>
<circle cx="138.15" cy="283.60" r="0.8" fill="#3b5a8b"/>
<rect x="119.30" y="279.30" width="76.00" height="89.00" fill="none" stroke="#1c1c1c" stroke-width="1.2"/>
<line x1="37.60" y1="364.60" x2="41.30" y2="364.60" stroke="#333" stroke-width="0.9" stroke-linecap="butt"/>
<text x="35.20" y="367.00" font-size="6.83" text-anchor="end" fill="#2a2a2a" stroke="#2a2a2a" stroke-width="0.08" textLength="3.39" lengthAdjust="spacingAndGlyphs">0</text>
<line x1="37.60" y1="343.78" x2="41.30" y2="343.78" stroke="#333" stroke-width="0.9" stroke-linecap="butt"/>
<text x="35.20" y="346.18" font-size="6.83" text-anchor="end" fill="#2a2a2a" stroke="#2a2a2a" stroke-width="0.08" textLength="6.79" lengthAdjust="spacingAndGlyphs">25</text>
<line x1="37.60" y1="322.95" x2="41.30" y2="322.95" stroke="#333" stroke-width="0.9" stroke-linecap="butt"/>
<text x="35.20" y="325.35" font-size="6.83" text-anchor="end" fill="#2a2a2a" stroke="#2a2a2a" stroke-width="0.08" textLength="6.79" lengthAdjust="spacingAndGlyphs">50</text>
<line x1="37.60" y1="302.12" x2="41.30" y2="302.12" stroke="#333" stroke-width="0.9" stroke-linecap="butt"/>
<text x="35.20" y="304.52" font-size="6.83" text-anchor="end" fill="#2a2a2a" stroke="#2a2a2a" stroke-width="0.08" textLength="6.79" lengthAdjust="spacingAndGlyphs">75</text>
<line x1="37.60" y1="281.30" x2="41.30" y2="281.30" stroke="#333" stroke-width="0.9" stroke-linecap="butt"/>
<text x="35.20" y="283.70" font-size="6.83" text-anchor="end" fill="#2a2a2a" stroke="#2a2a2a" stroke-width="0.08" textLength="10.18" lengthAdjust="spacingAndGlyphs">100</text>
<line x1="50.95" y1="379.50" x2="50.95" y2="394.20" stroke="#a6304b" stroke-width="0.7" stroke-opacity="0.7" stroke-linecap="butt"/>
<line x1="50.95" y1="409.70" x2="50.95" y2="415.50" stroke="#a6304b" stroke-width="0.7" stroke-opacity="0.7" stroke-linecap="butt"/>
<rect x="46.35" y="394.20" width="9.20" height="15.50" fill="none" stroke="#a6304b" stroke-width="0.75" stroke-opacity="0.75"/>
<line x1="46.35" y1="399.10" x2="55.55" y2="399.10" stroke="#a6304b" stroke-width="0.8250000000000001" stroke-opacity="0.85" stroke-linecap="butt"/>
<circle cx="54.33" cy="404.86" r="0.95" fill="#a6304b"/>
<circle cx="53.28" cy="399.51" r="0.95" fill="#a6304b"/>
<circle cx="51.90" cy="405.15" r="0.95" fill="#a6304b"/>
<circle cx="49.88" cy="394.07" r="0.95" fill="#a6304b"/>
<circle cx="48.36" cy="381.46" r="0.95" fill="#a6304b"/>
<circle cx="48.37" cy="379.50" r="0.95" fill="#a6304b"/>
<circle cx="52.40" cy="415.50" r="0.95" fill="#a6304b"/>
<line x1="60.15" y1="380.40" x2="60.15" y2="392.20" stroke="#3b5a8b" stroke-width="0.7" stroke-opacity="0.7" stroke-linecap="butt"/>
<line x1="60.15" y1="404.20" x2="60.15" y2="409.20" stroke="#3b5a8b" stroke-width="0.7" stroke-opacity="0.7" stroke-linecap="butt"/>
<rect x="55.55" y="392.20" width="9.20" height="12.00" fill="none" stroke="#3b5a8b" stroke-width="0.75" stroke-opacity="0.75"/>
<line x1="55.55" y1="398.20" x2="64.75" y2="398.20" stroke="#3b5a8b" stroke-width="0.8250000000000001" stroke-opacity="0.85" stroke-linecap="butt"/>
<circle cx="57.79" cy="395.27" r="0.95" fill="#3b5a8b"/>
<circle cx="62.54" cy="393.21" r="0.95" fill="#3b5a8b"/>
<circle cx="61.34" cy="402.65" r="0.95" fill="#3b5a8b"/>
<circle cx="58.35" cy="388.52" r="0.95" fill="#3b5a8b"/>
<circle cx="59.87" cy="388.84" r="0.95" fill="#3b5a8b"/>
<circle cx="58.10" cy="380.40" r="0.95" fill="#3b5a8b"/>
<circle cx="59.82" cy="409.20" r="0.95" fill="#3b5a8b"/>
<line x1="74.70" y1="413.70" x2="74.70" y2="422.50" stroke="#a6304b" stroke-width="0.7" stroke-opacity="0.7" stroke-linecap="butt"/>
<line x1="74.70" y1="434.70" x2="74.70" y2="440.10" stroke="#a6304b" stroke-width="0.7" stroke-opacity="0.7" stroke-linecap="butt"/>
<rect x="70.10" y="422.50" width="9.20" height="12.20" fill="none" stroke="#a6304b" stroke-width="0.75" stroke-opacity="0.75"/>
<line x1="70.10" y1="429.20" x2="79.30" y2="429.20" stroke="#a6304b" stroke-width="0.8250000000000001" stroke-opacity="0.85" stroke-linecap="butt"/>
<circle cx="77.93" cy="425.71" r="0.95" fill="#a6304b"/>
<circle cx="75.03" cy="434.37" r="0.95" fill="#a6304b"/>
<circle cx="77.96" cy="425.48" r="0.95" fill="#a6304b"/>
<circle cx="73.70" cy="421.87" r="0.95" fill="#a6304b"/>
<circle cx="73.87" cy="413.73" r="0.95" fill="#a6304b"/>
<circle cx="74.55" cy="413.70" r="0.95" fill="#a6304b"/>
<circle cx="74.72" cy="440.10" r="0.95" fill="#a6304b"/>
<line x1="83.90" y1="421.00" x2="83.90" y2="426.10" stroke="#3b5a8b" stroke-width="0.7" stroke-opacity="0.7" stroke-linecap="butt"/>
<line x1="83.90" y1="437.40" x2="83.90" y2="447.40" stroke="#3b5a8b" stroke-width="0.7" stroke-opacity="0.7" stroke-linecap="butt"/>
<rect x="79.30" y="426.10" width="9.20" height="11.30" fill="none" stroke="#3b5a8b" stroke-width="0.75" stroke-opacity="0.75"/>
<line x1="79.30" y1="431.00" x2="88.50" y2="431.00" stroke="#3b5a8b" stroke-width="0.8250000000000001" stroke-opacity="0.85" stroke-linecap="butt"/>
<circle cx="83.93" cy="428.37" r="0.95" fill="#3b5a8b"/>
<circle cx="82.25" cy="426.16" r="0.95" fill="#3b5a8b"/>
<circle cx="83.20" cy="427.11" r="0.95" fill="#3b5a8b"/>
<circle cx="80.56" cy="422.10" r="0.95" fill="#3b5a8b"/>
<circle cx="82.03" cy="429.03" r="0.95" fill="#3b5a8b"/>
<circle cx="84.41" cy="421.00" r="0.95" fill="#3b5a8b"/>
<circle cx="84.08" cy="447.40" r="0.95" fill="#3b5a8b"/>
<line x1="98.45" y1="452.00" x2="98.45" y2="453.00" stroke="#a6304b" stroke-width="0.7" stroke-opacity="0.7" stroke-linecap="butt"/>
<line x1="98.45" y1="455.50" x2="98.45" y2="456.00" stroke="#a6304b" stroke-width="0.7" stroke-opacity="0.7" stroke-linecap="butt"/>
<rect x="93.85" y="453.00" width="9.20" height="2.50" fill="none" stroke="#a6304b" stroke-width="0.75" stroke-opacity="0.75"/>
<line x1="93.85" y1="454.50" x2="103.05" y2="454.50" stroke="#a6304b" stroke-width="0.8250000000000001" stroke-opacity="0.85" stroke-linecap="butt"/>
<circle cx="99.55" cy="454.88" r="0.95" fill="#a6304b"/>
<circle cx="101.10" cy="454.79" r="0.95" fill="#a6304b"/>
<circle cx="97.23" cy="453.97" r="0.95" fill="#a6304b"/>
<circle cx="96.00" cy="455.94" r="0.95" fill="#a6304b"/>
<circle cx="99.45" cy="454.90" r="0.95" fill="#a6304b"/>
<circle cx="95.71" cy="452.00" r="0.95" fill="#a6304b"/>
<circle cx="100.46" cy="456.00" r="0.95" fill="#a6304b"/>
<line x1="107.65" y1="453.50" x2="107.65" y2="454.50" stroke="#3b5a8b" stroke-width="0.7" stroke-opacity="0.7" stroke-linecap="butt"/>
<line x1="107.65" y1="456.00" x2="107.65" y2="456.20" stroke="#3b5a8b" stroke-width="0.7" stroke-opacity="0.7" stroke-linecap="butt"/>
<rect x="103.05" y="454.50" width="9.20" height="1.50" fill="none" stroke="#3b5a8b" stroke-width="0.75" stroke-opacity="0.75"/>
<line x1="103.05" y1="455.30" x2="112.25" y2="455.30" stroke="#3b5a8b" stroke-width="0.8250000000000001" stroke-opacity="0.85" stroke-linecap="butt"/>
<circle cx="108.54" cy="455.84" r="0.95" fill="#3b5a8b"/>
<circle cx="109.84" cy="455.60" r="0.95" fill="#3b5a8b"/>
<circle cx="107.82" cy="454.71" r="0.95" fill="#3b5a8b"/>
<circle cx="109.99" cy="454.86" r="0.95" fill="#3b5a8b"/>
<circle cx="109.93" cy="455.67" r="0.95" fill="#3b5a8b"/>
<circle cx="108.15" cy="453.50" r="0.95" fill="#3b5a8b"/>
<circle cx="110.01" cy="456.20" r="0.95" fill="#3b5a8b"/>
<circle cx="74.70" cy="452.00" r="0.8" fill="#a6304b"/>
<rect x="41.30" y="370.80" width="76.00" height="89.00" fill="none" stroke="#1c1c1c" stroke-width="1.2"/>
<line x1="128.95" y1="380.60" x2="128.95" y2="387.30" stroke="#a6304b" stroke-width="0.7" stroke-opacity="0.7" stroke-linecap="butt"/>
<line x1="128.95" y1="412.30" x2="128.95" y2="418.80" stroke="#a6304b" stroke-width="0.7" stroke-opacity="0.7" stroke-linecap="butt"/>
<rect x="124.35" y="387.30" width="9.20" height="25.00" fill="none" stroke="#a6304b" stroke-width="0.75" stroke-opacity="0.75"/>
<line x1="124.35" y1="396.40" x2="133.55" y2="396.40" stroke="#a6304b" stroke-width="0.8250000000000001" stroke-opacity="0.85" stroke-linecap="butt"/>
<circle cx="130.30" cy="404.37" r="0.95" fill="#a6304b"/>
<circle cx="125.67" cy="393.05" r="0.95" fill="#a6304b"/>
<circle cx="127.97" cy="390.63" r="0.95" fill="#a6304b"/>
<circle cx="131.30" cy="384.61" r="0.95" fill="#a6304b"/>
<circle cx="129.84" cy="401.94" r="0.95" fill="#a6304b"/>
<circle cx="129.71" cy="380.60" r="0.95" fill="#a6304b"/>
<circle cx="130.03" cy="418.80" r="0.95" fill="#a6304b"/>
<line x1="138.15" y1="383.70" x2="138.15" y2="389.70" stroke="#3b5a8b" stroke-width="0.7" stroke-opacity="0.7" stroke-linecap="butt"/>
<line x1="138.15" y1="405.50" x2="138.15" y2="414.60" stroke="#3b5a8b" stroke-width="0.7" stroke-opacity="0.7" stroke-linecap="butt"/>
<rect x="133.55" y="389.70" width="9.20" height="15.80" fill="none" stroke="#3b5a8b" stroke-width="0.75" stroke-opacity="0.75"/>
<line x1="133.55" y1="394.60" x2="142.75" y2="394.60" stroke="#3b5a8b" stroke-width="0.8250000000000001" stroke-opacity="0.85" stroke-linecap="butt"/>
<circle cx="134.67" cy="397.43" r="0.95" fill="#3b5a8b"/>
<circle cx="139.89" cy="402.30" r="0.95" fill="#3b5a8b"/>
<circle cx="138.40" cy="397.65" r="0.95" fill="#3b5a8b"/>
<circle cx="135.11" cy="404.07" r="0.95" fill="#3b5a8b"/>
<circle cx="136.42" cy="406.47" r="0.95" fill="#3b5a8b"/>
<circle cx="135.60" cy="383.70" r="0.95" fill="#3b5a8b"/>
<circle cx="136.74" cy="414.60" r="0.95" fill="#3b5a8b"/>
<line x1="152.70" y1="411.90" x2="152.70" y2="421.90" stroke="#a6304b" stroke-width="0.7" stroke-opacity="0.7" stroke-linecap="butt"/>
<line x1="152.70" y1="442.50" x2="152.70" y2="446.90" stroke="#a6304b" stroke-width="0.7" stroke-opacity="0.7" stroke-linecap="butt"/>
<rect x="148.10" y="421.90" width="9.20" height="20.60" fill="none" stroke="#a6304b" stroke-width="0.75" stroke-opacity="0.75"/>
<line x1="148.10" y1="433.40" x2="157.30" y2="433.40" stroke="#a6304b" stroke-width="0.8250000000000001" stroke-opacity="0.85" stroke-linecap="butt"/>
<circle cx="150.64" cy="436.92" r="0.95" fill="#a6304b"/>
<circle cx="156.03" cy="437.14" r="0.95" fill="#a6304b"/>
<circle cx="151.88" cy="432.08" r="0.95" fill="#a6304b"/>
<circle cx="153.99" cy="428.67" r="0.95" fill="#a6304b"/>
<circle cx="153.52" cy="438.74" r="0.95" fill="#a6304b"/>
<circle cx="153.56" cy="411.90" r="0.95" fill="#a6304b"/>
<circle cx="150.16" cy="446.90" r="0.95" fill="#a6304b"/>
<line x1="161.90" y1="414.60" x2="161.90" y2="425.00" stroke="#3b5a8b" stroke-width="0.7" stroke-opacity="0.7" stroke-linecap="butt"/>
<line x1="161.90" y1="439.60" x2="161.90" y2="446.10" stroke="#3b5a8b" stroke-width="0.7" stroke-opacity="0.7" stroke-linecap="butt"/>
<rect x="157.30" y="425.00" width="9.20" height="14.60" fill="none" stroke="#3b5a8b" stroke-width="0.75" stroke-opacity="0.75"/>
<line x1="157.30" y1="434.70" x2="166.50" y2="434.70" stroke="#3b5a8b" stroke-width="0.8250000000000001" stroke-opacity="0.85" stroke-linecap="butt"/>
<circle cx="160.18" cy="427.15" r="0.95" fill="#3b5a8b"/>
<circle cx="160.53" cy="435.85" r="0.95" fill="#3b5a8b"/>
<circle cx="158.49" cy="433.29" r="0.95" fill="#3b5a8b"/>
<circle cx="160.28" cy="416.51" r="0.95" fill="#3b5a8b"/>
<circle cx="163.25" cy="435.77" r="0.95" fill="#3b5a8b"/>
<circle cx="162.95" cy="414.60" r="0.95" fill="#3b5a8b"/>
<circle cx="160.65" cy="446.10" r="0.95" fill="#3b5a8b"/>
<line x1="176.45" y1="452.00" x2="176.45" y2="453.50" stroke="#a6304b" stroke-width="0.7" stroke-opacity="0.7" stroke-linecap="butt"/>
<line x1="176.45" y1="456.00" x2="176.45" y2="456.50" stroke="#a6304b" stroke-width="0.7" stroke-opacity="0.7" stroke-linecap="butt"/>
<rect x="171.85" y="453.50" width="9.20" height="2.50" fill="none" stroke="#a6304b" stroke-width="0.75" stroke-opacity="0.75"/>
<line x1="171.85" y1="455.00" x2="181.05" y2="455.00" stroke="#a6304b" stroke-width="0.8250000000000001" stroke-opacity="0.85" stroke-linecap="butt"/>
<circle cx="176.20" cy="454.79" r="0.95" fill="#a6304b"/>
<circle cx="173.78" cy="454.67" r="0.95" fill="#a6304b"/>
<circle cx="174.34" cy="455.73" r="0.95" fill="#a6304b"/>
<circle cx="179.50" cy="456.40" r="0.95" fill="#a6304b"/>
<circle cx="176.16" cy="452.08" r="0.95" fill="#a6304b"/>
<circle cx="178.37" cy="452.00" r="0.95" fill="#a6304b"/>
<circle cx="179.26" cy="456.50" r="0.95" fill="#a6304b"/>
<line x1="185.65" y1="453.50" x2="185.65" y2="455.00" stroke="#3b5a8b" stroke-width="0.7" stroke-opacity="0.7" stroke-linecap="butt"/>
<line x1="185.65" y1="456.50" x2="185.65" y2="456.50" stroke="#3b5a8b" stroke-width="0.7" stroke-opacity="0.7" stroke-linecap="butt"/>
<rect x="181.05" y="455.00" width="9.20" height="1.50" fill="none" stroke="#3b5a8b" stroke-width="0.75" stroke-opacity="0.75"/>
<line x1="181.05" y1="455.80" x2="190.25" y2="455.80" stroke="#3b5a8b" stroke-width="0.8250000000000001" stroke-opacity="0.85" stroke-linecap="butt"/>
<circle cx="184.03" cy="455.67" r="0.95" fill="#3b5a8b"/>
<circle cx="188.77" cy="455.31" r="0.95" fill="#3b5a8b"/>
<circle cx="186.22" cy="455.32" r="0.95" fill="#3b5a8b"/>
<circle cx="185.82" cy="453.93" r="0.95" fill="#3b5a8b"/>
<circle cx="183.08" cy="456.36" r="0.95" fill="#3b5a8b"/>
<circle cx="187.57" cy="453.50" r="0.95" fill="#3b5a8b"/>
<circle cx="185.70" cy="456.50" r="0.95" fill="#3b5a8b"/>
<rect x="119.30" y="370.80" width="76.00" height="89.00" fill="none" stroke="#1c1c1c" stroke-width="1.2"/>
<line x1="37.60" y1="456.10" x2="41.30" y2="456.10" stroke="#333" stroke-width="0.9" stroke-linecap="butt"/>
<text x="35.20" y="458.50" font-size="6.83" text-anchor="end" fill="#2a2a2a" stroke="#2a2a2a" stroke-width="0.08" textLength="3.39" lengthAdjust="spacingAndGlyphs">0</text>
<line x1="37.60" y1="435.28" x2="41.30" y2="435.28" stroke="#333" stroke-width="0.9" stroke-linecap="butt"/>
<text x="35.20" y="437.68" font-size="6.83" text-anchor="end" fill="#2a2a2a" stroke="#2a2a2a" stroke-width="0.08" textLength="6.79" lengthAdjust="spacingAndGlyphs">25</text>
<line x1="37.60" y1="414.45" x2="41.30" y2="414.45" stroke="#333" stroke-width="0.9" stroke-linecap="butt"/>
<text x="35.20" y="416.85" font-size="6.83" text-anchor="end" fill="#2a2a2a" stroke="#2a2a2a" stroke-width="0.08" textLength="6.79" lengthAdjust="spacingAndGlyphs">50</text>
<line x1="37.60" y1="393.62" x2="41.30" y2="393.62" stroke="#333" stroke-width="0.9" stroke-linecap="butt"/>
<text x="35.20" y="396.02" font-size="6.83" text-anchor="end" fill="#2a2a2a" stroke="#2a2a2a" stroke-width="0.08" textLength="6.79" lengthAdjust="spacingAndGlyphs">75</text>
<line x1="37.60" y1="372.80" x2="41.30" y2="372.80" stroke="#333" stroke-width="0.9" stroke-linecap="butt"/>
<text x="35.20" y="375.20" font-size="6.83" text-anchor="end" fill="#2a2a2a" stroke="#2a2a2a" stroke-width="0.08" textLength="10.18" lengthAdjust="spacingAndGlyphs">100</text>
<line x1="55.55" y1="459.80" x2="55.55" y2="462.30" stroke="#1c1c1c" stroke-width="0.9" stroke-linecap="butt"/>
<text x="55.55" y="471.80" font-size="6.61" text-anchor="middle" fill="#222" stroke="#222" stroke-width="0.14" textLength="3.28" lengthAdjust="spacingAndGlyphs">1</text>
<line x1="79.30" y1="459.80" x2="79.30" y2="462.30" stroke="#1c1c1c" stroke-width="0.9" stroke-linecap="butt"/>
<text x="79.30" y="471.80" font-size="6.61" text-anchor="middle" fill="#222" stroke="#222" stroke-width="0.14" textLength="3.28" lengthAdjust="spacingAndGlyphs">2</text>
<line x1="103.05" y1="459.80" x2="103.05" y2="462.30" stroke="#1c1c1c" stroke-width="0.9" stroke-linecap="butt"/>
<text x="103.05" y="471.80" font-size="6.61" text-anchor="middle" fill="#222" stroke="#222" stroke-width="0.14" textLength="3.28" lengthAdjust="spacingAndGlyphs">3</text>
<line x1="133.55" y1="459.80" x2="133.55" y2="462.30" stroke="#1c1c1c" stroke-width="0.9" stroke-linecap="butt"/>
<text x="133.55" y="471.80" font-size="6.61" text-anchor="middle" fill="#222" stroke="#222" stroke-width="0.14" textLength="3.28" lengthAdjust="spacingAndGlyphs">1</text>
<line x1="157.30" y1="459.80" x2="157.30" y2="462.30" stroke="#1c1c1c" stroke-width="0.9" stroke-linecap="butt"/>
<text x="157.30" y="471.80" font-size="6.61" text-anchor="middle" fill="#222" stroke="#222" stroke-width="0.14" textLength="3.28" lengthAdjust="spacingAndGlyphs">2</text>
<line x1="181.05" y1="459.80" x2="181.05" y2="462.30" stroke="#1c1c1c" stroke-width="0.9" stroke-linecap="butt"/>
<text x="181.05" y="471.80" font-size="6.61" text-anchor="middle" fill="#222" stroke="#222" stroke-width="0.14" textLength="3.28" lengthAdjust="spacingAndGlyphs">3</text>
<text x="19.20" y="369.00" font-size="8.8" text-anchor="middle" fill="#2a2a2a" stroke="#2a2a2a" stroke-width="0.1" transform="rotate(-90 19.20 369.00)" textLength="144" lengthAdjust="spacingAndGlyphs">Percentage of cells producing cytokines</text>
<rect x="91.30" y="480.50" width="4.6" height="4.6" rx="1.6" fill="#a6304b" fill-opacity="0.3" stroke="#a6304b" stroke-opacity="0.55" stroke-width="0.7"/>
<line x1="93.60" y1="480.40" x2="93.60" y2="485.20" stroke="#a6304b" stroke-width="0.7" stroke-opacity="0.7" stroke-linecap="butt"/>
<circle cx="93.60" cy="482.80" r="0.9" fill="#a6304b"/>
<text x="99.00" y="484.90" font-size="6.27" text-anchor="start" fill="#333" stroke="#333" stroke-width="0.05" textLength="8.4" lengthAdjust="spacingAndGlyphs">BM</text>
<rect x="118.10" y="480.50" width="4.6" height="4.6" rx="1.6" fill="#3b5a8b" fill-opacity="0.3" stroke="#3b5a8b" stroke-opacity="0.55" stroke-width="0.7"/>
<line x1="120.40" y1="480.40" x2="120.40" y2="485.20" stroke="#3b5a8b" stroke-width="0.7" stroke-opacity="0.7" stroke-linecap="butt"/>
<circle cx="120.40" cy="482.80" r="0.9" fill="#3b5a8b"/>
<text x="126.00" y="484.90" font-size="6.27" text-anchor="start" fill="#333" stroke="#333" stroke-width="0.05" textLength="15.9" lengthAdjust="spacingAndGlyphs">PBMC</text>
<text x="220.50" y="265.20" font-size="11" text-anchor="start" fill="#111" stroke="#111" stroke-width="0.1">D</text>
<text x="375.00" y="265.60" font-size="8.2" text-anchor="middle" fill="#111" stroke="#111" stroke-width="0.1" textLength="70.6" lengthAdjust="spacingAndGlyphs">Exhaustion Markers</text>
<rect x="247.20" y="336.80" width="265.50" height="2.55" fill="#c8c8c8"/>
<rect x="247.20" y="398.15" width="265.50" height="2.55" fill="#c8c8c8"/>
<rect x="374.00" y="269.20" width="2.40" height="190.30" fill="#bdbdbd"/>
<rect x="247.20" y="269.20" width="126.80" height="8.80" fill="#c6c3c2" stroke="#1c1c1c" stroke-width="1.1"/>
<text x="310.60" y="276.00" font-size="6.72" text-anchor="middle" fill="#2a2a2a" stroke="#2a2a2a" stroke-width="0.1" textLength="46.69" lengthAdjust="spacingAndGlyphs">CD4+ Pentamer+</text>
<rect x="376.40" y="269.20" width="126.80" height="8.80" fill="#c6c3c2" stroke="#1c1c1c" stroke-width="1.1"/>
<text x="439.80" y="276.00" font-size="6.72" text-anchor="middle" fill="#2a2a2a" stroke="#2a2a2a" stroke-width="0.1" textLength="46.69" lengthAdjust="spacingAndGlyphs">CD8+ Pentamer+</text>
<rect x="503.20" y="278.00" width="9.50" height="58.80" fill="#c6c3c2" stroke="#1c1c1c" stroke-width="1.1"/>
<text x="505.55" y="307.90" font-size="6.72" text-anchor="middle" fill="#2a2a2a" stroke="#2a2a2a" stroke-width="0.08" transform="rotate(90 505.55 307.90)" textLength="15.34" lengthAdjust="spacingAndGlyphs">LAG3</text>
<rect x="503.20" y="339.35" width="9.50" height="58.80" fill="#c6c3c2" stroke="#1c1c1c" stroke-width="1.1"/>
<text x="505.55" y="369.25" font-size="6.72" text-anchor="middle" fill="#2a2a2a" stroke="#2a2a2a" stroke-width="0.08" transform="rotate(90 505.55 369.25)" textLength="11.67" lengthAdjust="spacingAndGlyphs">PD1</text>
<rect x="503.20" y="400.70" width="9.50" height="58.80" fill="#c6c3c2" stroke="#1c1c1c" stroke-width="1.1"/>
<text x="505.55" y="430.60" font-size="6.72" text-anchor="middle" fill="#2a2a2a" stroke="#2a2a2a" stroke-width="0.08" transform="rotate(90 505.55 430.60)" textLength="13.67" lengthAdjust="spacingAndGlyphs">TIM3</text>
<line x1="355.89" y1="325.00" x2="355.89" y2="329.70" stroke="#3b5a8b" stroke-width="0.8" stroke-opacity="0.62" stroke-linecap="butt"/>
<line x1="354.49" y1="325.00" x2="357.29" y2="325.00" stroke="#3b5a8b" stroke-width="0.8" stroke-opacity="0.62" stroke-linecap="butt"/>
<line x1="354.49" y1="329.70" x2="357.29" y2="329.70" stroke="#3b5a8b" stroke-width="0.8" stroke-opacity="0.62" stroke-linecap="butt"/>
<polyline points="265.31,327.20 295.50,328.70 325.70,328.50 355.89,327.20" fill="none" stroke="#3b5a8b" stroke-width="1.0" stroke-linejoin="round"/>
<circle cx="265.31" cy="327.20" r="0.9" fill="#3b5a8b"/>
<circle cx="295.50" cy="328.70" r="0.9" fill="#3b5a8b"/>
<circle cx="325.70" cy="328.50" r="0.9" fill="#3b5a8b"/>
<circle cx="355.89" cy="327.20" r="0.9" fill="#3b5a8b"/>
<line x1="265.31" y1="322.30" x2="265.31" y2="330.80" stroke="#a6304b" stroke-width="0.8" stroke-opacity="0.62" stroke-linecap="butt"/>
<line x1="263.91" y1="322.30" x2="266.71" y2="322.30" stroke="#a6304b" stroke-width="0.8" stroke-opacity="0.62" stroke-linecap="butt"/>
<line x1="263.91" y1="330.80" x2="266.71" y2="330.80" stroke="#a6304b" stroke-width="0.8" stroke-opacity="0.62" stroke-linecap="butt"/>
<line x1="325.70" y1="326.20" x2="325.70" y2="330.00" stroke="#a6304b" stroke-width="0.8" stroke-opacity="0.62" stroke-linecap="butt"/>
<line x1="324.30" y1="326.20" x2="327.10" y2="326.20" stroke="#a6304b" stroke-width="0.8" stroke-opacity="0.62" stroke-linecap="butt"/>
<line x1="324.30" y1="330.00" x2="327.10" y2="330.00" stroke="#a6304b" stroke-width="0.8" stroke-opacity="0.62" stroke-linecap="butt"/>
<line x1="355.89" y1="317.00" x2="355.89" y2="328.80" stroke="#a6304b" stroke-width="0.8" stroke-opacity="0.62" stroke-linecap="butt"/>
<line x1="354.49" y1="317.00" x2="357.29" y2="317.00" stroke="#a6304b" stroke-width="0.8" stroke-opacity="0.62" stroke-linecap="butt"/>
<line x1="354.49" y1="328.80" x2="357.29" y2="328.80" stroke="#a6304b" stroke-width="0.8" stroke-opacity="0.62" stroke-linecap="butt"/>
<polyline points="265.31,326.20 295.50,328.70 325.70,328.30 355.89,323.00" fill="none" stroke="#a6304b" stroke-width="1.0" stroke-linejoin="round"/>
<circle cx="265.31" cy="326.20" r="0.9" fill="#a6304b"/>
<circle cx="295.50" cy="328.70" r="0.9" fill="#a6304b"/>
<circle cx="325.70" cy="328.30" r="0.9" fill="#a6304b"/>
<circle cx="355.89" cy="323.00" r="0.9" fill="#a6304b"/>
<rect x="247.20" y="278.00" width="126.80" height="58.80" fill="none" stroke="#1c1c1c" stroke-width="1.2"/>
<line x1="485.09" y1="327.00" x2="485.09" y2="329.50" stroke="#3b5a8b" stroke-width="0.8" stroke-opacity="0.62" stroke-linecap="butt"/>
<line x1="483.69" y1="327.00" x2="486.49" y2="327.00" stroke="#3b5a8b" stroke-width="0.8" stroke-opacity="0.62" stroke-linecap="butt"/>
<line x1="483.69" y1="329.50" x2="486.49" y2="329.50" stroke="#3b5a8b" stroke-width="0.8" stroke-opacity="0.62" stroke-linecap="butt"/>
<polyline points="394.51,328.00 424.70,328.50 454.90,328.50 485.09,328.30" fill="none" stroke="#3b5a8b" stroke-width="1.0" stroke-linejoin="round"/>
<circle cx="394.51" cy="328.00" r="0.9" fill="#3b5a8b"/>
<circle cx="424.70" cy="328.50" r="0.9" fill="#3b5a8b"/>
<circle cx="454.90" cy="328.50" r="0.9" fill="#3b5a8b"/>
<circle cx="485.09" cy="328.30" r="0.9" fill="#3b5a8b"/>
<line x1="394.51" y1="325.10" x2="394.51" y2="329.30" stroke="#a6304b" stroke-width="0.8" stroke-opacity="0.62" stroke-linecap="butt"/>
<line x1="393.11" y1="325.10" x2="395.91" y2="325.10" stroke="#a6304b" stroke-width="0.8" stroke-opacity="0.62" stroke-linecap="butt"/>
<line x1="393.11" y1="329.30" x2="395.91" y2="329.30" stroke="#a6304b" stroke-width="0.8" stroke-opacity="0.62" stroke-linecap="butt"/>
<polyline points="394.51,327.20 424.70,328.70 454.90,328.70 485.09,327.80" fill="none" stroke="#a6304b" stroke-width="1.0" stroke-linejoin="round"/>
<circle cx="394.51" cy="327.20" r="0.9" fill="#a6304b"/>
<circle cx="424.70" cy="328.70" r="0.9" fill="#a6304b"/>
<circle cx="454.90" cy="328.70" r="0.9" fill="#a6304b"/>
<circle cx="485.09" cy="327.80" r="0.9" fill="#a6304b"/>
<rect x="376.40" y="278.00" width="126.80" height="58.80" fill="none" stroke="#1c1c1c" stroke-width="1.2"/>
<line x1="243.40" y1="328.80" x2="247.20" y2="328.80" stroke="#333" stroke-width="0.9" stroke-linecap="butt"/>
<text x="241.00" y="331.20" font-size="6.83" text-anchor="end" fill="#2a2a2a" stroke="#2a2a2a" stroke-width="0.08" textLength="3.39" lengthAdjust="spacingAndGlyphs">0</text>
<line x1="243.40" y1="316.38" x2="247.20" y2="316.38" stroke="#333" stroke-width="0.9" stroke-linecap="butt"/>
<text x="241.00" y="318.77" font-size="6.83" text-anchor="end" fill="#2a2a2a" stroke="#2a2a2a" stroke-width="0.08" textLength="6.79" lengthAdjust="spacingAndGlyphs">20</text>
<line x1="243.40" y1="303.95" x2="247.20" y2="303.95" stroke="#333" stroke-width="0.9" stroke-linecap="butt"/>
<text x="241.00" y="306.35" font-size="6.83" text-anchor="end" fill="#2a2a2a" stroke="#2a2a2a" stroke-width="0.08" textLength="6.79" lengthAdjust="spacingAndGlyphs">40</text>
<line x1="243.40" y1="291.52" x2="247.20" y2="291.52" stroke="#333" stroke-width="0.9" stroke-linecap="butt"/>
<text x="241.00" y="293.92" font-size="6.83" text-anchor="end" fill="#2a2a2a" stroke="#2a2a2a" stroke-width="0.08" textLength="6.79" lengthAdjust="spacingAndGlyphs">60</text>
<line x1="243.40" y1="279.10" x2="247.20" y2="279.10" stroke="#333" stroke-width="0.9" stroke-linecap="butt"/>
<text x="241.00" y="281.50" font-size="6.83" text-anchor="end" fill="#2a2a2a" stroke="#2a2a2a" stroke-width="0.08" textLength="6.79" lengthAdjust="spacingAndGlyphs">80</text>
<line x1="265.31" y1="371.50" x2="265.31" y2="386.20" stroke="#3b5a8b" stroke-width="0.8" stroke-opacity="0.62" stroke-linecap="butt"/>
<line x1="263.91" y1="371.50" x2="266.71" y2="371.50" stroke="#3b5a8b" stroke-width="0.8" stroke-opacity="0.62" stroke-linecap="butt"/>
<line x1="263.91" y1="386.20" x2="266.71" y2="386.20" stroke="#3b5a8b" stroke-width="0.8" stroke-opacity="0.62" stroke-linecap="butt"/>
<line x1="295.50" y1="383.30" x2="295.50" y2="389.70" stroke="#3b5a8b" stroke-width="0.8" stroke-opacity="0.62" stroke-linecap="butt"/>
<line x1="294.10" y1="383.30" x2="296.90" y2="383.30" stroke="#3b5a8b" stroke-width="0.8" stroke-opacity="0.62" stroke-linecap="butt"/>
<line x1="294.10" y1="389.70" x2="296.90" y2="389.70" stroke="#3b5a8b" stroke-width="0.8" stroke-opacity="0.62" stroke-linecap="butt"/>
<line x1="325.70" y1="383.00" x2="325.70" y2="390.50" stroke="#3b5a8b" stroke-width="0.8" stroke-opacity="0.62" stroke-linecap="butt"/>
<line x1="324.30" y1="383.00" x2="327.10" y2="383.00" stroke="#3b5a8b" stroke-width="0.8" stroke-opacity="0.62" stroke-linecap="butt"/>
<line x1="324.30" y1="390.50" x2="327.10" y2="390.50" stroke="#3b5a8b" stroke-width="0.8" stroke-opacity="0.62" stroke-linecap="butt"/>
<line x1="355.89" y1="349.40" x2="355.89" y2="381.00" stroke="#3b5a8b" stroke-width="0.8" stroke-opacity="0.62" stroke-linecap="butt"/>
<line x1="354.49" y1="349.40" x2="357.29" y2="349.40" stroke="#3b5a8b" stroke-width="0.8" stroke-opacity="0.62" stroke-linecap="butt"/>
<line x1="354.49" y1="381.00" x2="357.29" y2="381.00" stroke="#3b5a8b" stroke-width="0.8" stroke-opacity="0.62" stroke-linecap="butt"/>
<polyline points="265.31,379.20 295.50,386.20 325.70,385.00 355.89,365.10" fill="none" stroke="#3b5a8b" stroke-width="1.0" stroke-linejoin="round"/>
<circle cx="265.31" cy="379.20" r="0.9" fill="#3b5a8b"/>
<circle cx="295.50" cy="386.20" r="0.9" fill="#3b5a8b"/>
<circle cx="325.70" cy="385.00" r="0.9" fill="#3b5a8b"/>
<circle cx="355.89" cy="365.10" r="0.9" fill="#3b5a8b"/>
<line x1="265.31" y1="360.00" x2="265.31" y2="395.80" stroke="#a6304b" stroke-width="0.8" stroke-opacity="0.62" stroke-linecap="butt"/>
<line x1="263.91" y1="360.00" x2="266.71" y2="360.00" stroke="#a6304b" stroke-width="0.8" stroke-opacity="0.62" stroke-linecap="butt"/>
<line x1="263.91" y1="395.80" x2="266.71" y2="395.80" stroke="#a6304b" stroke-width="0.8" stroke-opacity="0.62" stroke-linecap="butt"/>
<line x1="295.50" y1="366.90" x2="295.50" y2="395.40" stroke="#a6304b" stroke-width="0.8" stroke-opacity="0.62" stroke-linecap="butt"/>
<line x1="294.10" y1="366.90" x2="296.90" y2="366.90" stroke="#a6304b" stroke-width="0.8" stroke-opacity="0.62" stroke-linecap="butt"/>
<line x1="294.10" y1="395.40" x2="296.90" y2="395.40" stroke="#a6304b" stroke-width="0.8" stroke-opacity="0.62" stroke-linecap="butt"/>
<line x1="325.70" y1="380.20" x2="325.70" y2="388.00" stroke="#a6304b" stroke-width="0.8" stroke-opacity="0.62" stroke-linecap="butt"/>
<line x1="324.30" y1="380.20" x2="327.10" y2="380.20" stroke="#a6304b" stroke-width="0.8" stroke-opacity="0.62" stroke-linecap="butt"/>
<line x1="324.30" y1="388.00" x2="327.10" y2="388.00" stroke="#a6304b" stroke-width="0.8" stroke-opacity="0.62" stroke-linecap="butt"/>
<line x1="355.89" y1="377.00" x2="355.89" y2="384.00" stroke="#a6304b" stroke-width="0.8" stroke-opacity="0.62" stroke-linecap="butt"/>
<line x1="354.49" y1="377.00" x2="357.29" y2="377.00" stroke="#a6304b" stroke-width="0.8" stroke-opacity="0.62" stroke-linecap="butt"/>
<line x1="354.49" y1="384.00" x2="357.29" y2="384.00" stroke="#a6304b" stroke-width="0.8" stroke-opacity="0.62" stroke-linecap="butt"/>
<polyline points="265.31,378.20 295.50,381.00 325.70,385.00 355.89,380.50" fill="none" stroke="#a6304b" stroke-width="1.0" stroke-linejoin="round"/>
<circle cx="265.31" cy="378.20" r="0.9" fill="#a6304b"/>
<circle cx="295.50" cy="381.00" r="0.9" fill="#a6304b"/>
<circle cx="325.70" cy="385.00" r="0.9" fill="#a6304b"/>
<circle cx="355.89" cy="380.50" r="0.9" fill="#a6304b"/>
<rect x="247.20" y="339.35" width="126.80" height="58.80" fill="none" stroke="#1c1c1c" stroke-width="1.2"/>
<line x1="394.51" y1="368.00" x2="394.51" y2="387.00" stroke="#3b5a8b" stroke-width="0.8" stroke-opacity="0.62" stroke-linecap="butt"/>
<line x1="393.11" y1="368.00" x2="395.91" y2="368.00" stroke="#3b5a8b" stroke-width="0.8" stroke-opacity="0.62" stroke-linecap="butt"/>
<line x1="393.11" y1="387.00" x2="395.91" y2="387.00" stroke="#3b5a8b" stroke-width="0.8" stroke-opacity="0.62" stroke-linecap="butt"/>
<line x1="424.70" y1="372.70" x2="424.70" y2="391.40" stroke="#3b5a8b" stroke-width="0.8" stroke-opacity="0.62" stroke-linecap="butt"/>
<line x1="423.30" y1="372.70" x2="426.10" y2="372.70" stroke="#3b5a8b" stroke-width="0.8" stroke-opacity="0.62" stroke-linecap="butt"/>
<line x1="423.30" y1="391.40" x2="426.10" y2="391.40" stroke="#3b5a8b" stroke-width="0.8" stroke-opacity="0.62" stroke-linecap="butt"/>
<line x1="454.90" y1="377.00" x2="454.90" y2="389.00" stroke="#3b5a8b" stroke-width="0.8" stroke-opacity="0.62" stroke-linecap="butt"/>
<line x1="453.50" y1="377.00" x2="456.30" y2="377.00" stroke="#3b5a8b" stroke-width="0.8" stroke-opacity="0.62" stroke-linecap="butt"/>
<line x1="453.50" y1="389.00" x2="456.30" y2="389.00" stroke="#3b5a8b" stroke-width="0.8" stroke-opacity="0.62" stroke-linecap="butt"/>
<line x1="485.09" y1="378.40" x2="485.09" y2="386.20" stroke="#3b5a8b" stroke-width="0.8" stroke-opacity="0.62" stroke-linecap="butt"/>
<line x1="483.69" y1="378.40" x2="486.49" y2="378.40" stroke="#3b5a8b" stroke-width="0.8" stroke-opacity="0.62" stroke-linecap="butt"/>
<line x1="483.69" y1="386.20" x2="486.49" y2="386.20" stroke="#3b5a8b" stroke-width="0.8" stroke-opacity="0.62" stroke-linecap="butt"/>
<polyline points="394.51,377.60 424.70,381.90 454.90,383.30 485.09,382.40" fill="none" stroke="#3b5a8b" stroke-width="1.0" stroke-linejoin="round"/>
<circle cx="394.51" cy="377.60" r="0.9" fill="#3b5a8b"/>
<circle cx="424.70" cy="381.90" r="0.9" fill="#3b5a8b"/>
<circle cx="454.90" cy="383.30" r="0.9" fill="#3b5a8b"/>
<circle cx="485.09" cy="382.40" r="0.9" fill="#3b5a8b"/>
<line x1="394.51" y1="365.20" x2="394.51" y2="392.80" stroke="#a6304b" stroke-width="0.8" stroke-opacity="0.62" stroke-linecap="butt"/>
<line x1="393.11" y1="365.20" x2="395.91" y2="365.20" stroke="#a6304b" stroke-width="0.8" stroke-opacity="0.62" stroke-linecap="butt"/>
<line x1="393.11" y1="392.80" x2="395.91" y2="392.80" stroke="#a6304b" stroke-width="0.8" stroke-opacity="0.62" stroke-linecap="butt"/>
<line x1="424.70" y1="383.00" x2="424.70" y2="389.00" stroke="#a6304b" stroke-width="0.8" stroke-opacity="0.62" stroke-linecap="butt"/>
<line x1="423.30" y1="383.00" x2="426.10" y2="383.00" stroke="#a6304b" stroke-width="0.8" stroke-opacity="0.62" stroke-linecap="butt"/>
<line x1="423.30" y1="389.00" x2="426.10" y2="389.00" stroke="#a6304b" stroke-width="0.8" stroke-opacity="0.62" stroke-linecap="butt"/>
<line x1="454.90" y1="385.00" x2="454.90" y2="390.00" stroke="#a6304b" stroke-width="0.8" stroke-opacity="0.62" stroke-linecap="butt"/>
<line x1="453.50" y1="385.00" x2="456.30" y2="385.00" stroke="#a6304b" stroke-width="0.8" stroke-opacity="0.62" stroke-linecap="butt"/>
<line x1="453.50" y1="390.00" x2="456.30" y2="390.00" stroke="#a6304b" stroke-width="0.8" stroke-opacity="0.62" stroke-linecap="butt"/>
<line x1="485.09" y1="385.00" x2="485.09" y2="389.00" stroke="#a6304b" stroke-width="0.8" stroke-opacity="0.62" stroke-linecap="butt"/>
<line x1="483.69" y1="385.00" x2="486.49" y2="385.00" stroke="#a6304b" stroke-width="0.8" stroke-opacity="0.62" stroke-linecap="butt"/>
<line x1="483.69" y1="389.00" x2="486.49" y2="389.00" stroke="#a6304b" stroke-width="0.8" stroke-opacity="0.62" stroke-linecap="butt"/>
<polyline points="394.51,379.00 424.70,386.20 454.90,387.60 485.09,387.00" fill="none" stroke="#a6304b" stroke-width="1.0" stroke-linejoin="round"/>
<circle cx="394.51" cy="379.00" r="0.9" fill="#a6304b"/>
<circle cx="424.70" cy="386.20" r="0.9" fill="#a6304b"/>
<circle cx="454.90" cy="387.60" r="0.9" fill="#a6304b"/>
<circle cx="485.09" cy="387.00" r="0.9" fill="#a6304b"/>
<rect x="376.40" y="339.35" width="126.80" height="58.80" fill="none" stroke="#1c1c1c" stroke-width="1.2"/>
<line x1="243.40" y1="390.15" x2="247.20" y2="390.15" stroke="#333" stroke-width="0.9" stroke-linecap="butt"/>
<text x="241.00" y="392.55" font-size="6.83" text-anchor="end" fill="#2a2a2a" stroke="#2a2a2a" stroke-width="0.08" textLength="3.39" lengthAdjust="spacingAndGlyphs">0</text>
<line x1="243.40" y1="377.73" x2="247.20" y2="377.73" stroke="#333" stroke-width="0.9" stroke-linecap="butt"/>
<text x="241.00" y="380.12" font-size="6.83" text-anchor="end" fill="#2a2a2a" stroke="#2a2a2a" stroke-width="0.08" textLength="6.79" lengthAdjust="spacingAndGlyphs">20</text>
<line x1="243.40" y1="365.30" x2="247.20" y2="365.30" stroke="#333" stroke-width="0.9" stroke-linecap="butt"/>
<text x="241.00" y="367.70" font-size="6.83" text-anchor="end" fill="#2a2a2a" stroke="#2a2a2a" stroke-width="0.08" textLength="6.79" lengthAdjust="spacingAndGlyphs">40</text>
<line x1="243.40" y1="352.88" x2="247.20" y2="352.88" stroke="#333" stroke-width="0.9" stroke-linecap="butt"/>
<text x="241.00" y="355.27" font-size="6.83" text-anchor="end" fill="#2a2a2a" stroke="#2a2a2a" stroke-width="0.08" textLength="6.79" lengthAdjust="spacingAndGlyphs">60</text>
<line x1="243.40" y1="340.45" x2="247.20" y2="340.45" stroke="#333" stroke-width="0.9" stroke-linecap="butt"/>
<text x="241.00" y="342.85" font-size="6.83" text-anchor="end" fill="#2a2a2a" stroke="#2a2a2a" stroke-width="0.08" textLength="6.79" lengthAdjust="spacingAndGlyphs">80</text>
<line x1="265.31" y1="430.00" x2="265.31" y2="449.80" stroke="#3b5a8b" stroke-width="0.8" stroke-opacity="0.62" stroke-linecap="butt"/>
<line x1="263.91" y1="430.00" x2="266.71" y2="430.00" stroke="#3b5a8b" stroke-width="0.8" stroke-opacity="0.62" stroke-linecap="butt"/>
<line x1="263.91" y1="449.80" x2="266.71" y2="449.80" stroke="#3b5a8b" stroke-width="0.8" stroke-opacity="0.62" stroke-linecap="butt"/>
<line x1="295.50" y1="434.00" x2="295.50" y2="449.00" stroke="#3b5a8b" stroke-width="0.8" stroke-opacity="0.62" stroke-linecap="butt"/>
<line x1="294.10" y1="434.00" x2="296.90" y2="434.00" stroke="#3b5a8b" stroke-width="0.8" stroke-opacity="0.62" stroke-linecap="butt"/>
<line x1="294.10" y1="449.00" x2="296.90" y2="449.00" stroke="#3b5a8b" stroke-width="0.8" stroke-opacity="0.62" stroke-linecap="butt"/>
<line x1="325.70" y1="446.00" x2="325.70" y2="451.10" stroke="#3b5a8b" stroke-width="0.8" stroke-opacity="0.62" stroke-linecap="butt"/>
<line x1="324.30" y1="446.00" x2="327.10" y2="446.00" stroke="#3b5a8b" stroke-width="0.8" stroke-opacity="0.62" stroke-linecap="butt"/>
<line x1="324.30" y1="451.10" x2="327.10" y2="451.10" stroke="#3b5a8b" stroke-width="0.8" stroke-opacity="0.62" stroke-linecap="butt"/>
<line x1="355.89" y1="448.00" x2="355.89" y2="451.00" stroke="#3b5a8b" stroke-width="0.8" stroke-opacity="0.62" stroke-linecap="butt"/>
<line x1="354.49" y1="448.00" x2="357.29" y2="448.00" stroke="#3b5a8b" stroke-width="0.8" stroke-opacity="0.62" stroke-linecap="butt"/>
<line x1="354.49" y1="451.00" x2="357.29" y2="451.00" stroke="#3b5a8b" stroke-width="0.8" stroke-opacity="0.62" stroke-linecap="butt"/>
<polyline points="265.31,439.20 295.50,441.00 325.70,448.70 355.89,449.50" fill="none" stroke="#3b5a8b" stroke-width="1.0" stroke-linejoin="round"/>
<circle cx="265.31" cy="439.20" r="0.9" fill="#3b5a8b"/>
<circle cx="295.50" cy="441.00" r="0.9" fill="#3b5a8b"/>
<circle cx="325.70" cy="448.70" r="0.9" fill="#3b5a8b"/>
<circle cx="355.89" cy="449.50" r="0.9" fill="#3b5a8b"/>
<line x1="265.31" y1="413.40" x2="265.31" y2="442.80" stroke="#a6304b" stroke-width="0.8" stroke-opacity="0.62" stroke-linecap="butt"/>
<line x1="263.91" y1="413.40" x2="266.71" y2="413.40" stroke="#a6304b" stroke-width="0.8" stroke-opacity="0.62" stroke-linecap="butt"/>
<line x1="263.91" y1="442.80" x2="266.71" y2="442.80" stroke="#a6304b" stroke-width="0.8" stroke-opacity="0.62" stroke-linecap="butt"/>
<line x1="295.50" y1="431.00" x2="295.50" y2="449.50" stroke="#a6304b" stroke-width="0.8" stroke-opacity="0.62" stroke-linecap="butt"/>
<line x1="294.10" y1="431.00" x2="296.90" y2="431.00" stroke="#a6304b" stroke-width="0.8" stroke-opacity="0.62" stroke-linecap="butt"/>
<line x1="294.10" y1="449.50" x2="296.90" y2="449.50" stroke="#a6304b" stroke-width="0.8" stroke-opacity="0.62" stroke-linecap="butt"/>
<line x1="325.70" y1="440.50" x2="325.70" y2="449.10" stroke="#a6304b" stroke-width="0.8" stroke-opacity="0.62" stroke-linecap="butt"/>
<line x1="324.30" y1="440.50" x2="327.10" y2="440.50" stroke="#a6304b" stroke-width="0.8" stroke-opacity="0.62" stroke-linecap="butt"/>
<line x1="324.30" y1="449.10" x2="327.10" y2="449.10" stroke="#a6304b" stroke-width="0.8" stroke-opacity="0.62" stroke-linecap="butt"/>
<line x1="355.89" y1="446.70" x2="355.89" y2="452.70" stroke="#a6304b" stroke-width="0.8" stroke-opacity="0.62" stroke-linecap="butt"/>
<line x1="354.49" y1="446.70" x2="357.29" y2="446.70" stroke="#a6304b" stroke-width="0.8" stroke-opacity="0.62" stroke-linecap="butt"/>
<line x1="354.49" y1="452.70" x2="357.29" y2="452.70" stroke="#a6304b" stroke-width="0.8" stroke-opacity="0.62" stroke-linecap="butt"/>
<polyline points="265.31,428.20 295.50,440.70 325.70,444.70 355.89,449.10" fill="none" stroke="#a6304b" stroke-width="1.0" stroke-linejoin="round"/>
<circle cx="265.31" cy="428.20" r="0.9" fill="#a6304b"/>
<circle cx="295.50" cy="440.70" r="0.9" fill="#a6304b"/>
<circle cx="325.70" cy="444.70" r="0.9" fill="#a6304b"/>
<circle cx="355.89" cy="449.10" r="0.9" fill="#a6304b"/>
<rect x="247.20" y="400.70" width="126.80" height="58.80" fill="none" stroke="#1c1c1c" stroke-width="1.2"/>
<line x1="394.51" y1="423.80" x2="394.51" y2="441.00" stroke="#3b5a8b" stroke-width="0.8" stroke-opacity="0.62" stroke-linecap="butt"/>
<line x1="393.11" y1="423.80" x2="395.91" y2="423.80" stroke="#3b5a8b" stroke-width="0.8" stroke-opacity="0.62" stroke-linecap="butt"/>
<line x1="393.11" y1="441.00" x2="395.91" y2="441.00" stroke="#3b5a8b" stroke-width="0.8" stroke-opacity="0.62" stroke-linecap="butt"/>
<line x1="424.70" y1="413.70" x2="424.70" y2="444.60" stroke="#3b5a8b" stroke-width="0.8" stroke-opacity="0.62" stroke-linecap="butt"/>
<line x1="423.30" y1="413.70" x2="426.10" y2="413.70" stroke="#3b5a8b" stroke-width="0.8" stroke-opacity="0.62" stroke-linecap="butt"/>
<line x1="423.30" y1="444.60" x2="426.10" y2="444.60" stroke="#3b5a8b" stroke-width="0.8" stroke-opacity="0.62" stroke-linecap="butt"/>
<line x1="454.90" y1="412.90" x2="454.90" y2="449.80" stroke="#3b5a8b" stroke-width="0.8" stroke-opacity="0.62" stroke-linecap="butt"/>
<line x1="453.50" y1="412.90" x2="456.30" y2="412.90" stroke="#3b5a8b" stroke-width="0.8" stroke-opacity="0.62" stroke-linecap="butt"/>
<line x1="453.50" y1="449.80" x2="456.30" y2="449.80" stroke="#3b5a8b" stroke-width="0.8" stroke-opacity="0.62" stroke-linecap="butt"/>
<line x1="485.09" y1="445.50" x2="485.09" y2="451.20" stroke="#3b5a8b" stroke-width="0.8" stroke-opacity="0.62" stroke-linecap="butt"/>
<line x1="483.69" y1="445.50" x2="486.49" y2="445.50" stroke="#3b5a8b" stroke-width="0.8" stroke-opacity="0.62" stroke-linecap="butt"/>
<line x1="483.69" y1="451.20" x2="486.49" y2="451.20" stroke="#3b5a8b" stroke-width="0.8" stroke-opacity="0.62" stroke-linecap="butt"/>
<polyline points="394.51,432.50 424.70,429.00 454.90,431.00 485.09,448.30" fill="none" stroke="#3b5a8b" stroke-width="1.0" stroke-linejoin="round"/>
<circle cx="394.51" cy="432.50" r="0.9" fill="#3b5a8b"/>
<circle cx="424.70" cy="429.00" r="0.9" fill="#3b5a8b"/>
<circle cx="454.90" cy="431.00" r="0.9" fill="#3b5a8b"/>
<circle cx="485.09" cy="448.30" r="0.9" fill="#3b5a8b"/>
<line x1="394.51" y1="408.00" x2="394.51" y2="428.10" stroke="#a6304b" stroke-width="0.8" stroke-opacity="0.62" stroke-linecap="butt"/>
<line x1="393.11" y1="408.00" x2="395.91" y2="408.00" stroke="#a6304b" stroke-width="0.8" stroke-opacity="0.62" stroke-linecap="butt"/>
<line x1="393.11" y1="428.10" x2="395.91" y2="428.10" stroke="#a6304b" stroke-width="0.8" stroke-opacity="0.62" stroke-linecap="butt"/>
<line x1="424.70" y1="403.00" x2="424.70" y2="438.80" stroke="#a6304b" stroke-width="0.8" stroke-opacity="0.62" stroke-linecap="butt"/>
<line x1="423.30" y1="403.00" x2="426.10" y2="403.00" stroke="#a6304b" stroke-width="0.8" stroke-opacity="0.62" stroke-linecap="butt"/>
<line x1="423.30" y1="438.80" x2="426.10" y2="438.80" stroke="#a6304b" stroke-width="0.8" stroke-opacity="0.62" stroke-linecap="butt"/>
<line x1="454.90" y1="412.30" x2="454.90" y2="444.00" stroke="#a6304b" stroke-width="0.8" stroke-opacity="0.62" stroke-linecap="butt"/>
<line x1="453.50" y1="412.30" x2="456.30" y2="412.30" stroke="#a6304b" stroke-width="0.8" stroke-opacity="0.62" stroke-linecap="butt"/>
<line x1="453.50" y1="444.00" x2="456.30" y2="444.00" stroke="#a6304b" stroke-width="0.8" stroke-opacity="0.62" stroke-linecap="butt"/>
<line x1="485.09" y1="439.10" x2="485.09" y2="446.90" stroke="#a6304b" stroke-width="0.8" stroke-opacity="0.62" stroke-linecap="butt"/>
<line x1="483.69" y1="439.10" x2="486.49" y2="439.10" stroke="#a6304b" stroke-width="0.8" stroke-opacity="0.62" stroke-linecap="butt"/>
<line x1="483.69" y1="446.90" x2="486.49" y2="446.90" stroke="#a6304b" stroke-width="0.8" stroke-opacity="0.62" stroke-linecap="butt"/>
<polyline points="394.51,418.00 424.70,421.00 454.90,428.10 485.09,443.40" fill="none" stroke="#a6304b" stroke-width="1.0" stroke-linejoin="round"/>
<circle cx="394.51" cy="418.00" r="0.9" fill="#a6304b"/>
<circle cx="424.70" cy="421.00" r="0.9" fill="#a6304b"/>
<circle cx="454.90" cy="428.10" r="0.9" fill="#a6304b"/>
<circle cx="485.09" cy="443.40" r="0.9" fill="#a6304b"/>
<rect x="376.40" y="400.70" width="126.80" height="58.80" fill="none" stroke="#1c1c1c" stroke-width="1.2"/>
<line x1="243.40" y1="451.50" x2="247.20" y2="451.50" stroke="#333" stroke-width="0.9" stroke-linecap="butt"/>
<text x="241.00" y="453.90" font-size="6.83" text-anchor="end" fill="#2a2a2a" stroke="#2a2a2a" stroke-width="0.08" textLength="3.39" lengthAdjust="spacingAndGlyphs">0</text>
<line x1="243.40" y1="439.07" x2="247.20" y2="439.07" stroke="#333" stroke-width="0.9" stroke-linecap="butt"/>
<text x="241.00" y="441.47" font-size="6.83" text-anchor="end" fill="#2a2a2a" stroke="#2a2a2a" stroke-width="0.08" textLength="6.79" lengthAdjust="spacingAndGlyphs">20</text>
<line x1="243.40" y1="426.65" x2="247.20" y2="426.65" stroke="#333" stroke-width="0.9" stroke-linecap="butt"/>
<text x="241.00" y="429.05" font-size="6.83" text-anchor="end" fill="#2a2a2a" stroke="#2a2a2a" stroke-width="0.08" textLength="6.79" lengthAdjust="spacingAndGlyphs">40</text>
<line x1="243.40" y1="414.23" x2="247.20" y2="414.23" stroke="#333" stroke-width="0.9" stroke-linecap="butt"/>
<text x="241.00" y="416.62" font-size="6.83" text-anchor="end" fill="#2a2a2a" stroke="#2a2a2a" stroke-width="0.08" textLength="6.79" lengthAdjust="spacingAndGlyphs">60</text>
<line x1="243.40" y1="401.80" x2="247.20" y2="401.80" stroke="#333" stroke-width="0.9" stroke-linecap="butt"/>
<text x="241.00" y="404.20" font-size="6.83" text-anchor="end" fill="#2a2a2a" stroke="#2a2a2a" stroke-width="0.08" textLength="6.79" lengthAdjust="spacingAndGlyphs">80</text>
<line x1="265.31" y1="459.50" x2="265.31" y2="462.00" stroke="#1c1c1c" stroke-width="0.9" stroke-linecap="butt"/>
<text x="265.31" y="471.80" font-size="6.61" text-anchor="middle" fill="#222" stroke="#222" stroke-width="0.14" textLength="15.41" lengthAdjust="spacingAndGlyphs">Day 7</text>
<line x1="295.50" y1="459.50" x2="295.50" y2="462.00" stroke="#1c1c1c" stroke-width="0.9" stroke-linecap="butt"/>
<text x="295.50" y="471.80" font-size="6.61" text-anchor="middle" fill="#222" stroke="#222" stroke-width="0.14" textLength="18.69" lengthAdjust="spacingAndGlyphs">Day 21</text>
<line x1="325.70" y1="459.50" x2="325.70" y2="462.00" stroke="#1c1c1c" stroke-width="0.9" stroke-linecap="butt"/>
<text x="325.70" y="471.80" font-size="6.61" text-anchor="middle" fill="#222" stroke="#222" stroke-width="0.14" textLength="18.69" lengthAdjust="spacingAndGlyphs">Day 42</text>
<line x1="355.89" y1="459.50" x2="355.89" y2="462.00" stroke="#1c1c1c" stroke-width="0.9" stroke-linecap="butt"/>
<text x="355.89" y="471.80" font-size="6.61" text-anchor="middle" fill="#222" stroke="#222" stroke-width="0.14" textLength="21.98" lengthAdjust="spacingAndGlyphs">Day 100</text>
<line x1="394.51" y1="459.50" x2="394.51" y2="462.00" stroke="#1c1c1c" stroke-width="0.9" stroke-linecap="butt"/>
<text x="394.51" y="471.80" font-size="6.61" text-anchor="middle" fill="#222" stroke="#222" stroke-width="0.14" textLength="15.41" lengthAdjust="spacingAndGlyphs">Day 7</text>
<line x1="424.70" y1="459.50" x2="424.70" y2="462.00" stroke="#1c1c1c" stroke-width="0.9" stroke-linecap="butt"/>
<text x="424.70" y="471.80" font-size="6.61" text-anchor="middle" fill="#222" stroke="#222" stroke-width="0.14" textLength="18.69" lengthAdjust="spacingAndGlyphs">Day 21</text>
<line x1="454.90" y1="459.50" x2="454.90" y2="462.00" stroke="#1c1c1c" stroke-width="0.9" stroke-linecap="butt"/>
<text x="454.90" y="471.80" font-size="6.61" text-anchor="middle" fill="#222" stroke="#222" stroke-width="0.14" textLength="18.69" lengthAdjust="spacingAndGlyphs">Day 42</text>
<line x1="485.09" y1="459.50" x2="485.09" y2="462.00" stroke="#1c1c1c" stroke-width="0.9" stroke-linecap="butt"/>
<text x="485.09" y="471.80" font-size="6.61" text-anchor="middle" fill="#222" stroke="#222" stroke-width="0.14" textLength="21.98" lengthAdjust="spacingAndGlyphs">Day 100</text>
<text x="227.20" y="368.60" font-size="8.7" text-anchor="middle" fill="#2a2a2a" stroke="#2a2a2a" stroke-width="0.1" transform="rotate(-90 227.20 368.60)" textLength="177" lengthAdjust="spacingAndGlyphs">Percentage of cells expressing exhaustion marker</text>
<line x1="350.00" y1="482.60" x2="355.20" y2="482.60" stroke="#a6304b" stroke-width="0.8" stroke-linecap="butt"/>
<circle cx="352.60" cy="482.60" r="0.8" fill="#a6304b"/>
<text x="358.00" y="484.40" font-size="5.0" text-anchor="start" fill="#444" textLength="7.7" lengthAdjust="spacingAndGlyphs">BM</text>
<line x1="376.30" y1="482.60" x2="381.50" y2="482.60" stroke="#3b5a8b" stroke-width="0.8" stroke-linecap="butt"/>
<circle cx="378.90" cy="482.60" r="0.8" fill="#3b5a8b"/>
<text x="383.80" y="484.40" font-size="5.0" text-anchor="start" fill="#444" textLength="14.2" lengthAdjust="spacingAndGlyphs">PBMC</text>
</svg>
</body></html>
